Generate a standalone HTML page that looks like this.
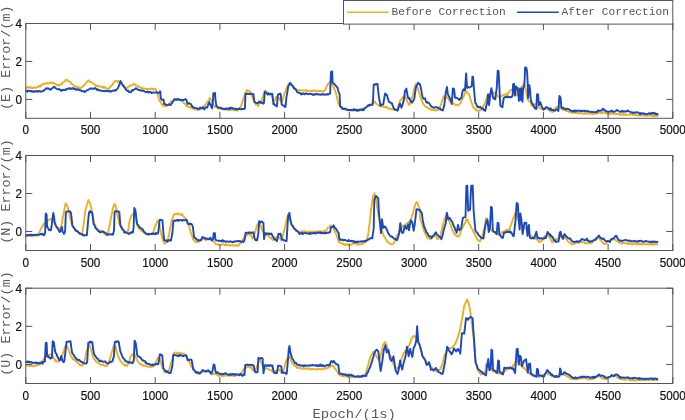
<!DOCTYPE html>
<html><head><meta charset="utf-8"><style>
html,body{margin:0;padding:0;background:#fff;}
svg{display:block;will-change:transform;}
.tk{font-family:"Liberation Sans",sans-serif;font-size:11.7px;fill:#111111;stroke:#111111;stroke-width:0.2px;}
.lb{font-family:"Liberation Mono",monospace;font-size:13.4px;fill:#5a5a5a;}
.lg{font-family:"Liberation Mono",monospace;font-size:11.2px;fill:#555555;}
</style></head><body>
<svg width="685" height="420" viewBox="0 0 685 420">
<polyline points="26.1,87.8 26.7,87.8 27.3,87.6 28.0,87.0 28.6,87.5 29.2,87.1 29.8,87.7 30.4,87.1 31.1,87.9 31.7,87.7 32.3,88.3 32.9,87.8 33.5,87.8 34.1,87.4 34.8,87.3 35.4,88.1 36.0,87.4 36.7,87.4 37.3,87.2 37.9,87.2 38.5,86.1 39.2,85.9 39.9,86.4 40.5,86.6 41.2,84.6 41.9,84.7 42.6,84.6 43.2,83.9 43.9,83.6 44.5,83.5 45.1,83.9 45.7,83.5 46.3,83.4 46.9,82.8 47.6,83.4 48.2,83.7 48.8,83.3 49.4,82.8 50.0,82.4 50.6,82.9 51.2,83.1 51.8,83.0 52.5,82.4 53.1,83.1 53.7,83.1 54.4,83.4 55.0,84.1 55.7,83.9 56.4,84.4 57.1,85.3 57.8,84.8 58.4,85.3 59.1,85.8 59.8,84.9 60.5,84.1 61.2,84.3 62.0,84.0 62.7,82.4 63.3,82.3 64.0,81.6 64.7,81.6 65.4,79.9 66.1,79.8 66.8,79.7 67.5,80.3 68.2,81.0 68.9,81.3 69.5,81.7 70.2,82.0 70.8,82.3 71.4,83.7 72.1,84.4 72.7,84.4 73.3,84.8 74.0,86.0 74.6,86.2 75.2,86.6 75.9,87.0 76.5,86.5 77.1,86.7 77.8,87.2 78.4,87.0 79.0,87.6 79.7,87.8 80.3,88.1 80.9,88.2 81.6,87.0 82.2,86.9 82.8,86.5 83.5,86.1 84.1,85.6 84.7,84.5 85.4,83.9 86.0,82.8 86.6,82.4 87.3,81.6 87.9,80.7 88.5,80.3 89.2,81.2 89.8,81.8 90.4,81.7 91.1,81.9 91.7,82.5 92.3,83.0 93.0,83.4 93.6,83.8 94.2,84.1 94.9,84.5 95.5,85.9 96.1,86.0 96.7,85.4 97.4,86.2 98.0,85.8 98.6,86.3 99.3,86.2 99.9,86.6 100.5,86.5 101.2,86.8 101.8,87.2 102.4,87.4 103.1,86.7 103.7,87.9 104.4,86.9 105.1,87.3 105.7,87.9 106.4,88.4 107.1,88.4 107.8,88.4 108.5,89.2 109.2,88.0 109.9,87.2 110.6,86.7 111.3,85.3 111.9,85.6 112.6,84.5 113.2,83.2 113.8,82.5 114.5,81.7 115.1,81.1 115.7,81.2 116.4,80.9 117.0,81.0 117.6,81.9 118.3,81.1 118.9,81.5 119.5,82.7 120.2,82.2 120.8,83.4 121.4,84.1 122.1,85.1 122.7,85.2 123.3,85.3 124.0,85.4 124.6,86.9 125.2,87.4 125.8,88.1 126.5,88.7 127.1,87.7 127.7,87.1 128.4,86.5 129.0,86.6 129.6,86.3 130.3,85.4 130.9,85.4 131.5,85.5 132.2,85.4 132.8,84.3 133.4,84.3 134.1,83.8 134.7,84.1 135.3,85.1 136.0,85.5 136.6,85.3 137.2,85.8 137.9,86.0 138.5,87.2 139.1,86.7 139.8,87.2 140.4,87.4 141.0,88.3 141.7,88.3 142.3,87.8 142.9,88.6 143.6,88.6 144.2,88.5 144.8,88.7 145.5,88.8 146.1,88.8 146.7,89.1 147.4,89.0 148.0,89.2 148.6,89.1 149.3,89.0 150.0,88.9 150.7,88.9 151.4,88.4 152.1,89.2 152.9,89.5 153.6,88.8 154.3,88.5 155.0,89.1 155.7,89.2 156.8,92.5 157.9,95.1 158.6,98.4 159.3,100.5 160.0,101.6 160.7,102.1 161.6,103.8 162.5,105.6 163.4,105.6 164.3,105.8 165.2,106.2 166.1,106.3 167.0,105.2 167.9,105.0 168.6,104.3 169.3,103.2 170.0,102.7 170.7,101.9 171.4,101.2 172.1,101.1 172.9,101.3 173.6,100.2 174.3,99.9 175.0,98.9 175.7,99.8 176.4,99.5 177.1,100.1 177.9,99.4 178.6,99.6 179.3,99.7 180.0,99.8 180.7,100.1 181.4,100.4 182.1,100.9 182.9,101.6 183.6,102.9 184.3,103.1 185.0,104.0 185.7,104.4 186.4,106.2 187.1,106.2 187.9,105.9 188.6,107.1 189.3,107.2 190.0,106.8 190.6,107.9 191.2,107.1 191.8,107.5 192.4,108.3 193.0,108.5 193.6,108.9 194.3,109.2 194.9,109.0 195.5,109.6 196.2,108.6 196.8,109.4 197.4,110.0 198.1,109.3 198.7,109.6 199.3,109.8 200.0,109.1 200.6,108.6 201.2,107.5 201.9,107.8 202.5,108.2 203.1,107.5 203.8,106.3 204.4,106.0 205.0,105.1 205.7,104.5 206.3,103.5 206.9,102.9 207.6,101.3 208.4,101.1 209.1,99.4 209.8,97.9 210.4,99.2 211.0,99.9 211.7,100.9 212.3,102.1 212.9,103.6 213.6,105.0 214.2,105.7 214.8,106.6 215.5,106.8 216.2,107.1 216.8,107.7 217.5,107.5 218.2,108.1 218.9,108.5 219.5,108.7 220.2,108.9 220.9,108.0 221.5,109.1 222.1,109.3 222.7,109.0 223.4,109.6 224.0,109.4 224.6,109.2 225.3,109.4 225.9,109.7 226.5,109.4 227.2,109.5 227.8,109.9 228.4,110.2 229.1,109.4 229.7,109.4 230.3,110.2 231.0,109.5 231.6,109.5 232.2,109.6 232.9,109.9 233.5,109.9 234.1,110.1 234.8,110.5 235.4,110.3 236.0,110.5 236.7,109.6 237.3,110.5 237.9,110.5 238.6,108.8 239.2,108.9 239.8,107.4 240.5,106.9 241.1,106.2 241.8,103.4 242.5,101.6 243.2,99.0 243.9,97.4 244.7,94.8 245.4,92.8 246.1,92.4 246.8,89.9 247.5,90.4 248.2,91.5 248.9,90.8 249.6,90.7 250.3,92.8 251.1,94.6 251.8,96.1 252.5,98.1 253.2,98.9 253.9,101.2 254.6,102.1 255.3,103.5 256.0,104.7 256.8,103.9 257.5,104.8 258.2,106.1 258.8,104.7 259.4,103.8 260.1,102.6 260.7,102.1 261.3,101.0 262.0,99.6 262.7,97.3 263.4,95.3 264.1,93.4 264.8,91.1 265.5,90.5 266.2,91.4 267.0,92.0 267.7,92.5 268.3,92.9 268.9,92.9 269.6,93.9 270.2,94.9 270.8,94.9 271.5,95.9 272.2,97.1 272.9,98.9 273.6,100.3 274.3,101.4 275.2,99.6 276.0,96.9 276.7,97.0 277.4,97.6 278.1,98.1 278.8,97.7 279.6,98.8 280.3,100.6 281.0,101.2 281.7,102.8 282.4,100.8 283.1,97.9 283.8,95.6 284.5,93.1 285.3,91.6 286.0,89.4 286.7,87.6 287.4,86.5 288.1,84.7 288.9,85.1 289.7,84.2 290.3,84.5 291.0,85.0 291.7,85.8 292.4,86.8 293.1,87.4 293.7,88.3 294.3,88.1 295.0,89.0 295.6,89.0 296.2,89.1 296.9,90.3 297.5,90.4 298.1,90.1 298.8,90.1 299.4,90.2 300.0,90.2 300.7,90.1 301.3,90.6 301.9,90.6 302.6,90.6 303.2,90.5 303.8,90.4 304.5,90.5 305.1,90.7 305.7,90.2 306.4,90.2 307.0,90.8 307.6,90.5 308.3,91.1 308.9,90.7 309.5,90.8 310.2,91.2 310.8,91.2 311.4,90.9 312.1,90.8 312.7,91.3 313.3,90.5 314.0,90.5 314.6,90.8 315.2,90.5 315.8,90.7 316.4,91.2 317.0,91.5 317.6,91.0 318.3,91.1 318.9,90.8 319.5,91.5 320.1,91.2 320.7,90.8 321.3,91.2 321.9,91.3 322.6,91.4 323.2,91.8 323.8,91.5 324.4,90.7 325.1,89.8 325.8,88.8 326.5,86.6 327.2,85.8 328.0,83.8 328.7,84.0 329.4,82.0 330.1,81.5 330.8,82.1 331.5,84.2 332.2,84.5 332.9,85.9 333.6,86.9 334.4,89.4 335.1,90.9 335.8,92.4 336.5,95.7 337.2,98.3 337.9,101.5 338.6,103.9 339.3,104.7 340.1,106.2 340.8,107.5 341.5,108.0 342.2,108.7 342.8,108.8 343.5,109.2 344.2,109.4 344.9,109.7 345.5,109.7 346.2,110.0 346.9,110.0 347.5,110.3 348.1,109.7 348.7,109.8 349.4,110.3 350.0,110.1 350.6,110.4 351.3,110.1 351.9,109.9 352.5,110.2 353.2,110.1 353.8,110.3 354.4,110.7 355.1,110.1 355.7,110.3 356.3,110.6 357.0,110.7 357.6,111.2 358.2,110.6 358.9,109.9 359.5,110.8 360.1,110.0 360.8,110.1 361.4,109.6 362.0,109.2 362.7,110.4 363.3,108.6 363.9,108.8 364.6,108.3 365.2,107.7 365.8,107.7 366.5,107.3 367.1,106.7 367.7,106.4 368.4,105.8 369.0,105.1 369.6,104.6 370.3,104.7 370.9,104.0 371.5,104.0 372.2,102.9 372.8,103.1 373.4,101.9 374.1,102.2 374.7,101.3 375.3,102.2 376.0,103.6 376.6,103.8 377.2,104.4 377.8,104.8 378.5,105.5 379.1,105.3 379.7,105.9 380.4,106.0 381.0,106.6 381.6,106.4 382.3,106.3 382.9,106.6 383.5,106.8 384.2,106.8 384.8,107.6 385.4,106.8 386.1,107.3 386.7,106.8 387.3,107.6 388.0,108.3 388.6,108.7 389.2,108.5 389.9,108.7 390.5,109.0 391.1,109.2 391.8,109.3 392.4,109.2 393.0,109.3 393.7,109.9 394.3,110.1 394.9,110.1 395.6,109.4 396.2,109.8 396.8,109.8 397.5,110.3 398.1,107.4 398.7,104.7 399.4,103.0 400.0,100.7 400.7,100.0 401.4,99.2 402.1,97.9 402.9,97.2 403.6,96.7 404.3,96.4 405.0,96.0 405.7,98.0 406.4,99.0 407.1,101.1 407.9,102.8 408.6,103.3 409.3,104.9 410.0,103.8 410.7,101.9 411.4,100.3 412.1,97.3 412.9,94.9 413.6,91.4 414.3,89.0 415.0,86.4 415.7,84.1 416.4,85.5 417.1,87.4 417.9,88.5 418.6,91.7 419.3,92.7 420.0,95.4 420.7,97.5 421.4,99.8 422.1,101.5 422.9,103.4 423.6,104.4 424.3,105.2 424.9,105.8 425.5,106.7 426.1,106.7 426.7,107.3 427.3,107.2 428.0,108.0 428.6,108.5 429.2,109.1 429.8,108.7 430.4,108.6 431.0,109.7 431.6,109.9 432.2,110.1 432.9,110.0 433.5,109.9 434.1,110.0 434.7,110.4 435.3,110.6 435.9,109.9 436.5,110.3 437.1,110.3 437.9,110.0 438.6,109.8 439.3,109.3 440.0,107.0 440.7,105.2 441.4,103.3 442.1,100.2 442.9,99.1 443.6,96.3 444.3,96.6 445.0,96.2 445.7,96.3 446.4,96.3 447.1,98.0 447.9,98.5 448.6,98.9 449.3,100.7 450.0,101.3 450.7,102.1 451.4,102.1 452.1,102.6 452.9,103.2 453.6,103.2 454.3,104.4 455.0,104.6 455.7,104.9 456.4,105.2 457.1,105.3 457.9,104.8 458.6,104.7 459.3,104.5 460.0,103.5 460.7,102.5 461.4,100.9 462.1,99.4 462.9,97.9 463.6,96.4 464.3,94.9 465.0,92.3 465.7,90.7 466.4,91.3 467.1,92.3 467.9,93.1 468.9,94.2 469.6,96.0 470.3,99.2 471.0,100.8 471.7,102.9 472.4,104.8 473.1,106.8 473.9,108.2 474.6,108.3 475.3,109.2 476.0,110.5 476.7,109.7 477.4,110.5 478.1,110.6 478.9,110.8 479.6,110.9 480.3,109.6 481.0,109.7 481.7,109.4 482.4,108.4 483.1,106.4 483.9,105.1 484.6,104.0 485.3,102.2 486.0,99.4 486.7,98.4 487.4,95.4 488.1,95.7 488.9,94.8 489.6,94.9 490.3,94.2 491.0,93.4 491.7,92.3 492.4,91.7 493.1,92.7 493.9,92.7 494.6,93.7 495.3,93.7 496.0,94.3 496.7,94.5 497.4,96.1 498.1,96.6 498.9,96.7 499.6,96.6 500.3,96.0 501.0,96.4 501.7,96.2 502.4,95.1 503.1,95.1 503.9,94.5 505.0,94.9 505.6,94.3 506.2,95.0 506.8,93.5 507.4,93.7 508.0,93.5 508.7,92.3 509.3,91.6 510.0,90.7 510.9,90.1 511.7,89.6 512.5,89.0 513.4,89.2 514.2,89.3 515.1,89.1 516.3,91.7 517.1,95.6 518.0,92.0 519.1,89.3 520.3,88.3 521.4,86.9 522.3,86.6 523.1,85.7 523.7,83.5 524.3,84.7 525.1,86.9 526.0,91.2 526.9,94.7 527.7,99.6 528.9,100.9 530.0,101.8 530.9,103.4 531.7,105.6 532.0,105.9 532.7,105.1 533.4,104.9 534.1,104.9 534.9,103.9 535.6,104.9 536.3,105.1 537.0,106.1 537.7,106.5 538.4,107.1 539.1,107.9 539.9,107.5 540.6,108.6 541.3,108.3 542.0,109.1 542.7,109.1 543.4,110.0 544.1,109.4 544.9,108.5 545.6,108.6 546.3,108.0 547.0,109.0 547.7,109.3 548.4,109.7 549.1,110.1 549.9,110.9 550.6,110.9 551.3,111.0 552.0,111.9 552.7,112.0 553.4,110.5 554.1,109.9 554.9,108.5 555.6,107.8 556.3,107.1 557.0,106.9 557.7,106.9 558.4,107.2 559.1,107.0 559.9,107.3 560.6,107.5 561.3,108.3 562.0,109.7 562.6,109.5 563.2,109.7 563.8,110.1 564.4,109.9 565.1,110.2 565.7,110.8 566.3,111.0 566.9,111.0 567.6,110.9 568.2,111.3 568.8,111.7 569.5,112.4 570.1,111.8 570.7,112.0 571.4,112.3 572.0,113.0 572.6,112.5 573.3,112.6 573.9,112.3 574.5,112.5 575.2,112.8 575.8,113.0 576.4,112.9 577.1,113.0 577.7,113.6 578.3,112.8 579.0,113.3 579.6,113.1 580.3,113.3 580.9,113.4 581.5,113.5 582.2,113.2 582.8,113.1 583.4,113.8 584.1,113.6 584.7,113.3 585.3,114.1 586.0,113.6 586.6,113.3 587.2,113.1 587.9,113.7 588.5,113.6 589.1,113.4 589.8,113.7 590.4,114.1 591.0,113.5 591.7,113.3 592.3,113.6 593.0,114.0 593.6,114.0 594.2,113.7 594.9,113.6 595.5,113.2 596.1,113.8 596.7,112.7 597.4,113.6 598.0,113.1 598.6,112.9 599.3,112.3 599.9,112.8 600.5,113.1 601.2,113.2 601.8,112.5 602.4,113.3 603.1,112.4 603.7,112.0 604.3,112.4 604.9,112.8 605.6,113.2 606.2,113.2 606.8,113.5 607.4,113.7 608.0,114.1 608.6,113.3 609.2,113.8 609.8,114.4 610.4,113.8 611.1,113.6 611.7,113.1 612.3,113.6 612.9,114.1 613.6,114.1 614.2,113.4 614.8,113.3 615.5,114.2 616.1,114.1 616.7,113.7 617.4,114.0 618.0,114.3 618.6,114.0 619.3,113.9 619.9,114.4 620.5,115.1 621.2,114.5 621.8,114.4 622.4,114.6 623.1,114.0 623.7,115.2 624.3,114.0 625.0,114.7 625.6,115.0 626.3,114.4 626.9,114.9 627.5,114.9 628.2,114.5 628.8,114.5 629.4,114.8 630.1,113.9 630.7,114.6 631.3,114.5 632.0,114.6 632.6,114.6 633.2,115.0 633.9,114.9 634.5,114.9 635.1,115.0 635.8,114.9 636.4,114.8 637.0,115.6 637.7,115.1 638.3,115.2 639.0,115.2 639.6,115.6 640.2,115.1 640.9,115.1 641.5,115.4 642.1,115.4 642.8,115.1 643.4,115.6 644.0,115.7 644.7,115.8 645.3,115.6 645.9,115.7 646.6,115.7 647.2,115.7 647.8,115.9 648.5,115.8 649.1,114.9 649.7,115.1 650.4,115.6 651.0,115.8 651.7,115.2 652.3,116.0 652.9,115.8 653.5,116.6 654.1,115.8 654.7,116.3 655.3,116.2 655.9,116.2 656.5,116.0 657.1,115.6 657.7,116.0" fill="none" stroke="#EDB120" stroke-width="1.9" stroke-linejoin="round" stroke-linecap="round"/>
<polyline points="26.1,90.7 26.7,90.8 27.3,91.7 27.9,90.8 28.6,90.5 29.2,91.1 29.8,91.1 30.4,91.3 31.0,90.9 31.6,91.6 32.3,91.3 32.9,92.0 33.5,91.3 34.1,91.2 34.8,91.7 35.4,91.5 36.0,90.9 36.7,91.5 37.3,91.0 37.9,91.7 38.5,91.0 39.2,91.4 39.8,91.0 40.4,91.4 41.1,91.8 41.7,91.7 42.3,91.1 43.0,90.8 43.6,91.0 44.2,90.0 44.9,89.4 45.5,89.4 46.1,88.2 46.8,88.4 47.4,88.7 48.0,88.5 48.7,88.4 49.3,88.9 49.9,89.7 50.6,89.5 51.2,89.4 51.8,88.5 52.5,88.0 53.1,87.6 53.7,87.1 54.4,86.7 55.1,87.6 55.8,88.4 56.5,88.7 57.2,89.1 57.9,89.3 58.6,89.4 59.2,89.1 59.9,90.0 60.6,89.8 61.3,90.9 62.0,90.2 62.6,89.7 63.2,90.2 63.9,89.9 64.5,90.0 65.1,89.6 65.8,90.0 66.4,88.9 67.0,89.1 67.6,88.7 68.3,88.6 68.9,88.2 69.5,88.9 70.2,88.1 70.8,88.8 71.4,88.8 72.1,88.7 72.7,88.0 73.3,88.8 74.0,88.4 74.6,89.0 75.2,88.9 75.9,89.8 76.5,89.1 77.1,89.4 77.8,89.8 78.4,89.3 79.0,89.8 79.7,90.1 80.3,90.4 80.9,90.3 81.6,91.2 82.2,91.4 82.8,91.3 83.5,91.0 84.1,91.4 84.7,92.1 85.4,91.6 86.1,90.9 86.8,90.2 87.4,90.4 88.1,90.0 88.8,89.4 89.5,89.0 90.1,88.5 90.7,88.4 91.4,88.4 92.0,88.9 92.6,88.8 93.3,88.4 93.9,88.5 94.5,89.0 95.2,88.1 95.8,88.6 96.5,88.6 97.2,90.0 97.9,89.4 98.6,90.3 99.2,90.4 99.9,90.1 100.5,90.7 101.2,90.6 101.8,90.8 102.4,90.8 103.1,91.0 103.7,91.1 104.3,90.7 105.0,91.3 105.6,90.8 106.2,90.7 106.9,91.1 107.5,91.0 108.1,91.0 108.8,90.9 109.4,91.5 110.0,91.5 110.7,90.9 111.3,91.5 111.9,91.0 112.6,90.7 113.2,90.6 113.9,90.7 114.6,90.2 115.2,90.0 115.9,90.6 116.6,89.5 117.3,88.8 117.9,88.1 118.6,86.7 119.2,84.9 119.8,83.3 120.4,81.0 121.2,82.8 121.9,83.3 122.7,85.5 123.3,85.5 124.0,86.9 124.6,87.6 125.2,88.2 125.8,89.5 126.5,90.2 127.1,90.6 127.7,91.0 128.4,90.6 129.0,92.1 129.6,92.1 130.3,92.2 130.9,92.3 131.5,91.1 132.2,90.1 132.8,90.7 133.4,89.9 134.1,89.7 134.7,89.1 135.3,88.8 136.0,88.1 136.6,88.7 137.2,89.2 137.9,89.4 138.5,90.1 139.1,89.9 139.8,90.1 140.4,90.3 141.0,90.7 141.7,90.7 142.3,90.4 142.9,90.7 143.6,90.6 144.2,91.3 144.8,91.6 145.5,91.9 146.1,92.2 146.7,91.8 147.4,91.4 148.0,92.1 148.6,92.5 149.3,92.0 150.0,91.8 150.7,92.0 151.4,93.2 152.1,93.0 152.9,92.5 153.6,92.5 154.3,92.6 155.0,92.6 155.7,92.6 156.4,92.1 157.1,92.3 157.9,93.1 158.6,92.7 159.6,92.5 160.0,91.1 160.4,91.9 160.6,96.5 161.1,99.2 161.7,99.8 162.3,99.8 162.9,99.5 163.6,99.7 164.1,104.1 165.0,103.9 165.7,104.7 166.4,104.9 167.1,105.1 167.9,105.2 168.6,104.4 169.3,104.9 170.0,104.5 170.7,104.9 171.4,103.8 172.1,103.2 172.9,101.5 173.6,100.8 174.3,99.1 175.0,99.2 175.7,99.5 176.4,100.0 177.1,99.1 177.9,99.5 178.6,98.9 179.3,99.8 180.0,100.2 180.7,99.7 181.4,100.1 182.1,100.4 182.9,99.8 183.6,100.0 184.2,99.9 184.8,99.3 185.4,99.1 186.1,99.3 186.8,101.1 187.5,104.1 188.1,103.1 188.8,103.2 189.4,103.3 190.0,104.0 190.8,103.9 191.4,105.1 192.1,106.2 192.7,107.3 193.4,107.3 194.1,107.8 194.7,107.8 195.4,108.1 196.1,108.1 196.8,108.3 197.4,108.4 198.1,109.1 198.7,109.0 199.3,108.6 200.0,107.5 200.6,108.3 201.2,108.5 201.9,108.1 202.5,107.3 203.1,107.7 204.3,109.5 205.0,108.1 205.7,107.3 206.4,107.4 207.1,107.5 207.9,105.7 208.6,103.9 209.3,102.1 210.0,104.2 210.7,104.8 211.4,107.0 212.1,108.3 213.0,100.1 213.4,93.1 214.2,93.1 215.0,93.0 215.6,101.2 216.4,106.1 217.1,106.3 217.9,107.5 218.6,107.8 219.4,107.5 220.2,108.0 220.9,107.8 221.5,108.1 222.1,108.7 222.7,108.7 223.4,108.8 224.0,108.8 224.6,109.0 225.3,108.6 225.9,109.2 226.5,108.3 227.2,108.9 227.8,108.9 228.4,108.9 229.1,108.0 229.7,108.9 230.3,108.1 231.0,107.6 231.6,108.3 232.2,108.5 232.9,108.0 233.5,108.8 234.1,108.8 234.8,108.9 235.4,108.6 236.0,109.4 236.7,109.3 237.3,109.3 237.9,108.9 238.6,109.0 239.2,109.1 239.8,108.5 240.5,108.8 241.1,109.5 241.7,109.0 242.4,109.0 243.0,108.8 243.6,109.1 244.3,108.9 244.9,108.5 245.5,93.6 246.1,94.0 246.7,94.1 247.3,93.7 247.9,94.0 248.5,94.0 249.1,94.1 249.8,93.8 250.4,93.6 251.0,93.8 251.6,93.7 252.2,93.8 252.8,94.3 253.4,94.1 254.4,101.8 255.0,102.2 255.6,102.6 256.3,102.9 256.9,102.9 257.5,103.2 258.2,102.9 259.1,101.4 259.8,102.4 260.5,101.8 261.3,102.9 262.0,102.4 262.6,102.9 263.2,103.7 263.9,103.3 264.8,91.7 265.5,92.8 266.2,92.8 267.0,93.6 267.7,94.7 268.3,93.4 269.0,94.2 269.7,94.4 270.4,93.8 271.1,93.7 271.7,94.1 272.4,94.0 273.4,104.2 274.0,103.7 274.7,104.6 275.3,105.5 276.0,105.8 276.9,106.4 277.9,94.4 278.6,94.4 279.3,93.9 280.0,93.5 280.7,94.2 281.7,104.6 282.3,105.1 283.0,105.6 283.6,105.5 284.2,106.0 284.9,107.1 285.5,106.8 286.4,97.6 287.1,93.5 287.7,89.9 288.3,86.3 289.0,85.1 289.6,83.2 290.2,82.8 290.9,83.5 291.7,85.0 292.4,85.7 293.1,86.5 293.7,87.1 294.3,88.6 295.0,88.4 295.6,89.6 296.2,90.1 296.9,91.7 297.5,92.2 298.1,92.3 298.8,92.9 299.4,93.0 300.0,92.9 300.7,93.8 301.3,94.5 301.9,93.6 302.6,94.1 303.2,93.3 303.8,94.0 304.5,94.3 305.1,93.9 305.7,93.2 306.4,93.8 307.0,93.5 307.6,94.2 308.3,94.0 308.9,93.9 309.5,94.0 310.2,93.6 310.8,93.9 311.4,94.3 312.1,94.2 312.7,94.8 313.3,94.4 314.0,95.0 314.6,93.9 315.2,94.2 315.9,94.4 316.5,93.8 317.1,94.5 317.8,94.2 318.4,94.4 319.0,94.3 319.6,94.6 320.3,94.8 320.9,94.4 321.5,94.8 322.2,94.0 322.8,94.3 323.4,94.2 324.1,94.8 324.7,94.6 325.3,94.3 326.0,94.6 326.6,94.5 327.2,94.1 328.0,94.7 328.7,93.9 329.4,93.9 330.1,93.7 331.0,71.8 332.2,71.5 332.6,82.7 333.3,83.1 334.1,83.7 334.8,84.5 335.5,85.4 336.3,86.3 337.0,87.0 337.7,88.4 338.3,90.8 338.9,92.5 339.6,94.3 340.1,106.1 340.9,106.9 341.7,107.0 342.4,108.8 343.1,108.4 343.7,109.0 344.3,108.6 345.0,108.9 345.6,108.6 346.2,109.1 346.9,109.6 347.5,109.7 348.1,110.1 348.7,109.8 349.4,110.1 350.0,110.0 350.6,110.0 351.3,110.2 351.9,109.7 352.5,110.4 353.2,110.2 353.8,109.1 354.4,109.2 355.1,110.1 355.7,110.1 356.3,109.7 357.0,110.8 357.6,109.8 358.2,110.2 358.9,110.3 359.5,109.6 360.1,109.4 360.8,109.7 361.4,109.5 362.0,110.0 362.7,109.3 363.3,110.1 364.0,109.9 364.7,108.4 365.4,107.6 366.1,107.3 366.9,106.6 367.6,105.8 368.3,105.2 369.0,105.8 369.6,104.8 370.3,105.0 370.9,105.1 371.5,105.1 372.2,104.9 372.8,104.3 373.7,84.8 374.4,84.8 375.0,84.1 375.6,84.7 376.3,83.8 376.9,84.4 377.5,83.9 378.5,93.8 379.1,98.2 379.7,101.2 380.4,105.7 381.1,105.5 381.8,104.4 382.5,104.4 383.2,104.5 383.9,100.3 384.5,96.9 385.1,93.5 385.8,94.1 386.4,95.0 387.0,94.9 387.7,98.1 388.3,99.8 388.9,101.7 389.6,101.7 390.3,102.8 391.1,102.9 391.8,103.1 392.5,105.2 393.2,106.9 393.9,108.5 394.6,109.3 395.3,109.5 396.0,109.6 396.7,110.2 397.5,110.8 398.1,109.0 398.7,107.4 399.4,104.7 400.0,103.6 400.7,105.5 401.4,107.8 402.1,105.8 402.9,103.7 403.6,100.8 404.3,96.5 405.0,90.5 405.7,90.2 406.4,88.6 407.1,93.3 407.9,97.2 408.6,98.5 409.3,97.9 410.0,99.9 410.7,101.0 411.4,102.3 412.1,102.6 412.9,101.4 413.6,100.1 414.3,98.6 415.0,93.5 415.7,88.5 416.4,86.1 417.1,84.9 417.9,82.8 418.6,83.1 419.3,84.3 420.0,84.3 420.7,87.2 421.4,90.9 422.1,94.9 422.9,98.1 423.6,98.7 424.3,98.7 425.0,98.2 425.7,100.5 426.4,102.5 427.1,101.9 427.9,102.9 428.6,102.6 429.3,103.4 430.0,104.9 430.7,105.5 431.4,106.5 432.1,106.9 432.9,107.4 433.5,107.8 434.1,107.5 434.7,107.5 435.3,107.2 435.9,107.4 436.5,107.2 437.1,107.5 437.9,107.5 438.6,108.3 439.3,108.4 440.0,108.5 440.7,109.7 441.4,109.6 442.1,109.9 442.9,110.4 443.6,107.4 444.3,105.4 445.0,98.9 445.7,92.6 446.9,86.9 447.9,94.3 448.6,95.8 449.3,96.9 450.0,98.6 450.9,101.0 451.7,104.1 452.9,88.4 454.0,88.9 455.0,97.7 455.7,97.8 456.4,97.6 457.1,98.1 457.9,98.5 458.6,99.6 459.3,100.0 460.0,99.1 460.7,98.2 461.4,98.0 462.1,93.4 462.9,90.2 463.6,89.2 464.3,90.2 465.0,90.1 466.1,73.5 467.1,88.0 467.7,86.6 468.3,87.0 469.0,87.3 469.6,87.5 470.3,86.9 471.0,86.7 471.7,86.4 472.4,76.7 473.1,76.8 473.9,87.7 474.6,96.1 475.3,103.0 476.0,103.6 476.7,105.3 477.4,107.0 478.1,107.3 478.9,106.7 479.6,107.4 480.3,106.8 481.0,107.9 481.7,108.6 482.4,108.4 483.1,108.8 483.9,110.3 484.6,110.2 485.3,110.8 485.9,107.5 486.5,105.0 487.1,103.6 488.1,94.2 489.1,105.1 490.3,94.3 491.4,88.1 492.3,93.4 493.1,97.7 493.9,98.7 494.6,97.8 495.3,99.4 496.0,93.1 496.7,88.3 497.7,70.8 498.6,71.2 499.6,91.8 500.3,105.5 501.0,106.3 501.7,106.8 502.4,107.3 503.1,101.7 503.9,97.8 505.0,97.1 505.6,97.0 506.2,97.2 506.9,97.3 507.5,96.2 508.1,96.9 508.8,97.4 509.4,97.0 510.0,97.0 510.9,97.2 511.7,97.0 512.6,95.2 513.1,84.4 513.9,83.7 514.3,86.2 514.9,95.7 515.4,90.1 516.0,86.5 516.6,87.4 517.1,89.5 517.7,88.0 518.3,92.8 518.9,100.9 519.4,93.7 520.0,88.6 520.6,97.9 521.0,100.1 521.4,92.3 522.0,88.5 522.5,101.7 523.0,89.4 523.7,86.9 524.3,85.3 524.7,78.0 525.1,67.5 526.3,67.7 527.1,71.6 527.4,78.2 527.7,83.6 528.0,98.1 528.3,95.2 528.9,85.1 529.4,85.4 530.0,89.4 530.5,97.0 531.0,100.0 532.0,103.5 532.7,104.1 533.4,105.3 534.1,107.1 534.9,108.3 535.6,108.9 536.3,109.0 537.0,94.4 538.0,94.2 538.9,105.2 539.6,104.0 540.3,102.2 541.0,104.3 541.7,106.4 542.6,107.8 543.4,109.5 544.1,109.3 544.9,108.8 545.6,107.3 546.3,107.1 547.0,107.4 547.7,107.6 548.4,108.0 549.1,109.1 549.9,109.7 550.6,108.2 551.3,109.6 552.0,110.3 552.7,109.7 553.4,110.1 554.1,110.7 554.9,110.9 555.6,110.3 556.3,109.3 557.0,109.3 557.7,110.2 558.4,111.0 559.4,95.9 560.6,97.7 561.3,106.9 562.0,108.3 562.7,107.6 563.4,107.9 564.1,108.7 564.9,109.2 565.6,108.8 566.3,109.3 567.0,108.6 567.7,108.8 568.4,109.1 569.1,109.2 569.9,110.3 570.6,110.5 571.3,110.8 572.0,111.4 572.7,110.8 573.4,111.5 574.1,110.7 574.9,110.5 575.5,111.7 576.1,110.5 576.8,111.0 577.4,110.8 578.0,110.5 578.7,110.5 579.3,110.9 579.9,111.3 580.6,111.0 581.2,110.6 581.8,111.3 582.5,110.9 583.1,110.7 583.7,110.8 584.4,111.4 585.0,110.5 585.7,111.0 586.3,111.4 586.9,111.6 587.6,110.8 588.2,111.4 588.8,111.4 589.5,111.8 590.1,111.9 590.7,112.0 591.4,111.8 592.0,111.6 592.6,111.9 593.2,112.1 593.8,112.3 594.4,112.1 595.1,111.9 595.7,112.0 596.3,111.8 597.1,112.0 598.0,110.3 598.7,110.7 599.4,110.8 600.1,110.9 600.9,110.7 601.5,110.2 602.1,110.3 602.8,108.7 603.4,109.2 604.3,109.7 605.1,110.5 605.9,111.3 606.6,111.1 607.3,111.7 608.0,111.8 608.7,111.9 609.4,111.4 610.1,111.5 610.9,111.5 611.6,110.7 612.3,110.7 613.0,111.8 613.7,111.8 614.4,111.7 615.1,111.4 615.9,111.1 616.6,110.0 617.3,110.4 618.0,110.5 618.7,111.0 619.4,111.3 620.0,112.0 620.7,111.4 621.3,111.5 621.9,110.7 622.5,111.7 623.1,110.9 623.7,111.5 624.3,111.3 625.0,111.7 625.6,111.4 626.2,111.5 626.8,111.4 627.5,110.4 628.1,111.1 628.7,111.1 629.4,111.6 630.1,111.8 630.9,112.0 631.5,112.7 632.1,112.9 632.7,113.1 633.3,112.2 633.9,112.7 634.5,112.8 635.1,112.7 635.8,112.3 636.4,112.4 637.0,112.2 637.7,112.6 638.3,112.5 639.0,113.1 639.6,113.4 640.2,114.4 640.9,113.0 641.5,113.6 642.1,113.7 642.7,113.3 643.3,113.2 643.9,113.5 644.5,114.1 645.1,114.2 645.8,113.8 646.4,114.4 647.0,114.1 647.6,114.1 648.2,113.7 648.8,113.1 649.4,113.4 650.1,113.5 650.7,114.1 651.3,113.2 651.9,113.0 652.6,112.8 653.2,113.7 653.8,112.8 654.4,113.8 655.1,113.2 655.7,114.1 656.4,113.7 657.1,114.4 657.7,114.0" fill="none" stroke="#1a48bd" stroke-width="1.9" stroke-linejoin="round" stroke-linecap="round"/>
<polyline points="26.1,235.8 26.7,235.9 27.4,235.8 28.0,236.0 28.6,235.3 29.3,235.4 29.9,235.3 30.5,235.4 31.1,236.1 31.8,235.8 32.4,235.4 33.1,235.3 33.7,236.0 34.4,235.2 35.0,235.4 35.7,235.7 36.3,235.9 37.0,235.9 37.6,235.3 38.3,235.0 39.0,233.0 39.7,231.6 40.4,229.8 41.1,228.5 41.9,226.7 42.6,226.0 43.3,224.5 44.0,223.6 44.7,223.4 45.4,223.0 46.1,222.0 46.9,222.2 47.6,220.5 48.3,220.5 49.0,219.6 49.7,219.4 50.4,219.2 51.1,218.7 51.9,218.7 52.6,220.2 53.3,220.7 54.0,221.9 54.7,223.5 55.4,225.3 56.1,226.8 56.9,227.2 57.6,228.8 58.3,228.8 59.0,228.2 59.7,229.0 60.4,228.1 61.1,225.9 61.9,223.2 62.6,218.7 63.3,214.8 64.0,211.8 64.9,206.9 65.7,203.1 66.3,204.2 67.0,205.2 67.6,206.9 68.3,209.6 69.0,212.2 69.7,216.2 70.4,218.8 71.1,221.4 71.9,224.9 72.6,226.0 73.3,227.4 74.0,228.3 74.7,229.3 75.4,230.5 76.1,230.9 76.9,231.3 77.6,231.5 78.3,232.7 79.0,233.1 79.7,233.9 80.4,234.1 81.1,234.4 81.9,234.3 82.6,230.9 83.3,227.0 84.0,221.6 84.7,215.9 85.4,210.1 86.1,207.3 86.9,205.3 87.6,202.7 88.3,199.9 89.1,201.6 90.0,203.1 90.7,205.5 91.4,209.1 92.1,212.3 92.9,216.1 93.6,220.2 94.3,223.7 95.0,225.0 95.7,227.1 96.4,228.1 97.1,228.7 97.9,229.6 98.6,230.1 99.3,230.4 100.0,230.4 100.7,231.6 101.4,230.6 102.1,232.3 102.9,232.3 103.6,233.3 104.3,233.6 105.0,234.3 105.7,235.3 106.4,235.2 107.1,234.1 107.9,234.0 108.6,229.9 109.3,226.9 110.0,223.0 110.7,219.7 111.4,215.5 112.1,212.5 112.9,208.5 113.6,205.8 114.3,204.6 115.0,203.9 115.7,206.9 116.4,208.8 117.1,213.2 117.9,216.8 118.6,219.8 119.3,223.5 120.0,225.1 120.7,226.8 121.4,228.3 122.1,229.6 122.9,229.6 123.6,230.4 124.3,231.1 125.0,231.9 125.7,231.8 126.4,232.1 127.1,233.0 128.3,230.4 129.0,224.8 129.7,220.1 130.6,217.8 131.4,215.7 132.1,214.7 132.9,214.8 133.6,214.3 134.3,212.4 135.0,211.4 136.0,218.2 137.1,225.5 137.9,226.5 138.6,228.2 139.3,228.8 140.0,228.9 140.7,230.3 141.4,230.2 142.1,231.4 142.9,231.7 143.6,232.4 144.3,232.9 145.0,232.9 145.7,233.4 146.3,233.7 146.9,233.8 147.6,234.2 148.2,234.7 148.8,234.0 149.4,234.7 150.0,234.2 150.7,234.1 151.4,233.5 152.1,233.7 152.9,233.8 153.6,231.0 154.3,228.3 155.1,226.5 156.0,224.7 156.7,222.8 157.4,220.5 158.1,221.8 158.9,222.1 159.6,225.6 160.3,229.8 161.0,233.0 161.7,235.8 162.4,238.6 163.1,240.3 163.9,242.6 164.6,243.7 165.3,243.1 166.0,242.2 166.7,242.1 167.4,241.8 168.1,238.2 168.9,235.0 169.6,231.1 170.3,227.5 171.0,224.4 171.7,220.2 172.6,218.3 173.4,215.2 174.6,214.0 175.2,213.8 175.8,214.6 176.4,214.1 177.0,213.5 177.6,213.9 178.2,213.5 178.9,214.6 179.5,213.9 180.2,214.4 180.8,214.6 181.5,215.0 182.1,214.0 182.9,215.8 183.6,216.4 184.3,217.5 185.0,217.8 185.6,219.2 186.3,219.8 186.7,220.1 187.4,222.1 188.1,223.5 188.9,225.1 189.6,228.3 190.3,230.0 191.0,233.8 191.7,234.9 192.4,236.4 193.1,239.6 193.9,240.2 194.6,240.9 195.3,242.0 196.0,241.9 196.7,241.4 197.4,242.2 198.1,242.1 198.9,241.2 199.6,240.3 200.3,240.1 201.0,240.0 201.7,239.5 202.4,238.8 203.1,238.7 203.9,238.4 204.6,239.4 205.3,240.0 206.0,240.0 206.7,239.8 207.4,239.3 208.1,238.4 208.9,239.1 209.6,238.8 210.3,237.7 211.0,237.8 211.7,239.3 212.4,240.4 213.1,241.1 213.9,241.7 214.6,242.3 215.3,243.5 216.0,244.3 216.6,244.4 217.2,244.2 217.8,244.5 218.4,244.4 219.1,245.1 219.7,244.9 220.3,244.9 221.1,245.1 222.0,244.3 222.6,244.3 223.3,244.1 223.9,244.5 224.5,245.2 225.2,244.3 225.8,245.2 226.4,244.5 227.1,244.6 227.7,245.4 228.3,244.7 229.0,245.0 229.6,245.0 230.3,245.7 230.9,245.4 231.5,245.1 232.2,245.2 232.8,245.5 233.4,245.2 234.1,245.6 234.7,245.8 235.3,245.6 236.0,244.9 236.6,245.7 237.2,245.2 237.9,245.7 238.5,245.3 239.1,245.0 239.9,243.2 240.6,243.3 241.3,241.2 242.0,240.7 242.7,239.9 243.4,239.1 244.1,237.1 244.9,236.8 245.6,234.8 246.3,234.7 247.0,235.4 247.7,234.4 248.4,234.3 249.1,234.0 249.9,234.8 250.6,234.1 251.3,236.3 252.0,237.6 252.7,238.6 253.4,236.3 254.1,235.4 254.9,232.8 255.6,230.3 256.3,228.1 257.0,225.4 257.6,224.5 258.2,223.3 258.9,222.6 259.7,223.6 260.6,225.8 261.3,227.4 262.0,229.4 262.7,231.5 263.4,232.2 264.1,234.0 264.9,233.8 265.6,234.7 266.3,235.1 267.0,235.0 267.7,235.1 268.4,235.6 269.1,237.1 269.9,237.2 270.6,238.0 271.3,237.9 272.0,239.1 272.7,240.2 273.4,239.4 274.1,238.9 274.9,238.1 275.6,238.2 276.3,237.3 277.0,237.2 277.7,236.6 278.4,236.9 279.1,237.8 279.9,238.6 280.6,239.3 281.3,240.7 282.0,238.7 282.7,236.6 283.4,233.8 284.1,230.6 284.9,227.4 285.6,224.5 286.3,221.1 287.0,218.3 288.0,215.4 288.7,216.2 289.4,217.2 290.1,220.1 290.9,223.3 291.6,225.4 292.3,225.4 293.0,227.6 293.7,228.0 294.4,228.8 295.1,229.2 295.9,230.7 296.6,231.2 297.3,230.8 298.0,231.6 298.7,231.2 299.4,232.0 300.1,232.2 300.7,231.9 301.3,232.2 302.0,231.1 302.6,232.7 303.2,231.7 303.9,231.1 304.5,231.4 305.1,231.1 305.8,231.3 306.4,232.1 307.0,231.7 307.7,232.1 308.3,232.1 309.0,232.4 309.6,231.4 310.2,231.3 310.9,231.8 311.5,232.2 312.1,232.2 312.8,231.7 313.4,231.9 314.0,232.4 314.7,232.2 315.3,231.2 315.9,232.0 316.6,232.1 317.2,231.9 317.8,231.7 318.5,231.1 319.1,231.9 319.7,232.1 320.4,232.0 321.0,231.0 321.7,232.1 322.3,232.0 323.0,231.9 323.7,231.0 324.4,231.2 325.1,230.6 325.9,230.7 326.6,229.8 327.3,228.9 328.0,227.4 328.7,227.4 329.4,227.0 330.1,225.5 330.9,225.6 331.6,225.6 332.3,225.6 333.0,227.0 333.7,228.4 334.4,230.6 335.1,232.0 335.9,233.4 336.6,235.4 337.3,237.5 338.0,239.0 338.7,241.6 339.4,242.5 340.1,242.3 340.9,243.2 341.5,243.4 342.1,243.5 342.7,244.2 343.3,243.4 343.9,244.1 344.5,244.4 345.1,245.0 345.8,244.3 346.4,244.5 347.0,244.8 347.7,243.9 348.3,244.4 349.0,245.0 349.6,244.3 350.2,244.7 350.9,244.9 351.5,244.5 352.1,244.4 352.7,243.8 353.4,243.1 354.0,242.9 354.6,242.9 355.2,243.8 355.9,243.6 356.5,243.6 357.1,243.4 357.8,245.0 358.4,244.2 359.0,243.7 359.6,244.3 360.2,243.9 360.9,244.1 361.5,244.3 362.1,244.1 362.8,243.4 363.4,243.2 364.0,242.9 364.6,242.0 365.2,241.5 365.9,242.1 366.5,240.7 367.3,237.6 368.2,234.8 369.0,227.5 369.8,221.9 370.7,213.9 371.5,206.7 372.3,201.4 373.2,195.8 373.8,195.7 374.5,193.3 375.7,198.0 376.5,203.0 377.3,208.2 378.2,213.2 379.0,217.9 379.6,220.5 380.2,223.4 380.9,226.3 381.5,227.9 382.1,230.4 382.8,232.9 383.4,235.0 384.0,236.3 384.7,237.3 385.3,238.4 386.0,239.8 386.7,241.1 387.3,241.7 388.0,241.8 388.7,242.4 389.3,243.4 390.0,243.5 390.7,244.0 391.3,244.2 391.9,244.1 392.5,244.2 393.2,243.7 394.0,242.5 394.8,241.1 395.5,239.3 396.1,238.1 396.7,236.7 397.3,235.0 398.0,234.2 398.6,232.8 399.2,231.5 399.8,230.0 400.5,229.2 401.1,228.8 401.7,227.3 402.3,227.0 403.0,225.3 403.6,225.7 404.2,225.8 404.8,226.1 405.5,225.1 406.1,224.1 406.7,224.2 407.3,223.1 408.0,222.6 408.7,222.0 409.3,221.5 410.0,221.1 410.7,220.9 411.3,218.9 411.9,215.5 412.5,215.4 413.2,212.1 413.9,209.7 414.6,206.4 415.3,204.4 416.2,202.7 417.0,201.9 417.7,203.4 418.3,205.9 419.0,207.0 419.8,211.7 420.0,218.2 420.9,220.9 421.8,223.3 422.5,225.3 423.1,228.1 423.8,229.5 424.5,232.2 425.1,233.3 425.8,234.6 426.5,235.9 427.1,237.4 427.8,238.1 428.5,238.5 429.2,238.1 429.8,239.5 430.5,238.6 431.2,238.9 431.8,237.6 432.5,237.0 433.2,236.6 433.8,236.6 434.5,236.1 435.2,235.3 435.8,236.3 436.5,237.1 437.2,238.9 437.9,239.3 438.5,238.2 439.2,237.5 439.9,236.6 440.5,235.6 441.4,231.4 442.3,227.1 443.0,224.6 443.7,222.3 444.3,219.9 445.0,218.1 445.9,216.0 446.8,214.4 447.7,216.7 448.6,219.9 449.2,221.1 449.9,223.4 450.6,224.7 451.2,226.6 451.9,229.1 452.6,230.1 453.3,231.5 453.9,233.3 454.6,234.3 455.3,234.8 455.9,235.5 456.6,236.0 457.3,236.0 457.9,236.8 458.6,236.0 459.3,235.8 460.0,234.0 460.6,231.8 461.3,230.4 462.0,228.2 462.6,227.5 463.3,226.4 464.0,224.6 464.6,223.7 465.4,222.4 466.1,220.0 466.8,218.8 467.6,219.9 468.3,221.7 469.1,223.7 469.8,224.8 470.4,225.3 471.1,227.5 471.8,228.6 472.5,229.3 473.1,231.5 473.8,232.5 474.5,233.5 475.1,235.2 475.8,236.4 476.5,237.8 477.1,239.7 477.8,239.6 478.5,240.2 479.2,240.7 479.8,241.6 480.5,240.2 481.2,238.9 481.8,237.5 482.5,235.5 483.2,232.7 483.8,229.4 484.5,227.5 485.2,224.3 486.0,218.2 486.9,219.2 487.8,221.4 488.7,224.8 489.6,229.4 490.2,228.9 490.9,229.8 491.6,230.7 492.2,231.3 493.0,231.3 493.7,232.0 494.4,232.1 495.1,232.2 495.8,233.4 496.5,233.5 497.2,233.6 498.0,234.6 498.7,233.8 499.4,234.5 500.1,234.5 500.7,233.6 501.4,232.8 502.1,231.9 502.8,232.2 503.5,231.5 504.2,231.1 504.9,230.8 505.6,230.7 506.4,229.9 507.1,230.0 507.8,229.7 508.5,230.3 509.2,230.0 509.9,228.4 510.6,225.5 511.2,225.0 511.9,222.1 512.6,220.8 513.2,217.9 513.9,217.4 514.6,215.0 515.3,212.9 516.0,211.9 516.7,214.4 517.4,216.9 518.1,219.5 518.8,221.1 519.5,222.7 520.2,223.9 520.8,225.1 521.5,225.6 522.2,225.5 522.8,226.1 523.5,226.7 524.2,227.2 524.8,228.0 525.5,228.5 526.2,228.7 526.9,230.1 527.6,231.0 528.3,233.6 529.0,234.4 529.8,235.0 530.5,236.1 531.2,236.3 531.9,236.7 532.6,236.6 533.3,237.6 534.0,237.8 534.8,238.3 535.5,238.7 536.2,238.6 536.9,239.4 537.6,239.9 538.2,241.2 538.9,242.1 539.6,241.6 540.2,241.7 540.9,241.2 541.6,240.1 542.2,240.4 542.9,239.1 543.6,237.3 544.3,237.1 544.9,236.0 545.6,236.0 546.3,235.4 546.9,235.2 547.6,234.6 548.3,235.6 548.9,236.7 549.6,237.7 550.3,238.2 551.1,240.0 552.0,242.0 552.8,241.8 553.6,241.8 554.4,240.9 555.2,239.6 556.0,238.7 556.8,238.6 557.7,238.9 558.5,239.2 559.4,237.6 560.3,236.2 561.1,235.4 561.9,235.7 562.7,235.4 563.5,236.3 564.3,237.6 565.1,237.9 565.9,238.3 566.7,239.3 567.5,240.7 568.3,241.8 569.1,242.4 569.9,242.8 570.7,243.7 571.4,243.7 572.2,244.2 573.0,243.8 573.7,243.6 574.4,244.0 575.1,242.2 575.8,242.9 576.5,242.6 577.2,242.7 578.0,242.3 578.7,242.7 579.4,242.4 580.1,241.7 580.8,241.9 581.5,242.4 582.2,242.1 583.0,242.1 583.7,242.1 584.4,242.6 585.1,243.3 585.8,243.0 586.5,243.3 587.3,243.5 588.1,243.0 588.9,243.4 589.7,242.9 590.5,242.5 591.3,243.5 592.1,242.3 592.9,241.6 593.7,240.5 594.5,240.5 595.3,239.7 596.0,239.8 596.8,239.2 597.6,238.5 598.4,238.0 599.2,238.2 600.0,239.9 600.8,240.4 601.6,241.2 602.4,242.2 603.2,243.5 604.0,243.4 604.8,243.9 605.6,244.1 606.2,243.2 606.8,242.6 607.4,242.0 608.0,241.6 608.8,241.5 609.6,240.9 610.4,240.1 611.2,240.1 612.0,240.2 612.8,239.3 613.5,239.4 614.2,239.4 615.0,239.4 615.7,240.4 616.6,240.7 617.5,241.6 618.3,242.1 619.1,242.5 619.9,243.1 620.6,243.3 621.3,243.5 621.9,243.7 622.6,242.4 623.3,243.3 624.0,242.7 624.7,242.6 625.3,243.4 626.0,243.3 626.7,243.5 627.4,243.5 628.1,242.8 628.7,244.1 629.4,243.5 630.1,243.9 630.8,243.7 631.5,244.0 632.1,244.6 632.8,243.7 633.5,244.0 634.2,243.7 634.9,243.6 635.6,244.2 636.2,243.9 636.9,243.9 637.6,244.4 638.3,244.6 639.0,243.2 639.6,244.3 640.3,244.3 641.0,243.5 641.7,244.6 642.4,244.0 643.0,244.0 643.7,244.1 644.4,244.2 645.1,244.5 645.8,244.0 646.4,243.7 647.1,244.0 647.8,244.2 648.5,244.3 649.2,244.3 649.8,244.3 650.5,243.4 651.2,244.7 651.9,244.4 652.6,243.3 653.2,244.6 653.9,244.7 654.6,244.4 655.3,243.9 656.0,244.4 656.7,244.1 657.4,244.3" fill="none" stroke="#EDB120" stroke-width="1.9" stroke-linejoin="round" stroke-linecap="round"/>
<polyline points="26.1,235.8 26.7,235.3 27.4,235.2 28.0,234.7 28.6,235.2 29.3,235.3 29.9,235.0 30.5,234.9 31.1,234.5 31.8,235.5 32.4,235.0 33.1,234.8 33.7,235.1 34.4,234.9 35.0,234.8 35.7,234.7 36.3,234.7 37.0,234.8 37.6,234.9 38.3,234.9 38.9,234.7 39.5,234.8 40.1,234.4 40.7,233.9 41.3,233.8 42.0,234.6 42.6,233.7 43.3,234.6 44.0,235.4 45.1,233.2 45.7,213.5 46.6,214.6 47.1,226.9 47.8,227.7 48.4,228.9 49.0,230.0 49.7,229.8 50.4,230.4 51.1,229.8 52.3,220.2 53.3,213.0 54.0,217.0 54.7,222.0 55.4,224.3 56.1,225.9 56.9,227.2 57.6,228.1 58.3,229.4 59.0,230.9 59.7,232.1 60.9,230.2 61.9,226.9 62.6,231.8 63.3,232.4 64.0,233.9 65.1,231.4 65.9,212.3 66.9,211.5 67.6,211.6 68.3,211.4 69.0,211.3 69.6,211.7 70.2,211.5 70.9,212.5 71.6,218.0 72.3,225.2 73.1,226.6 74.0,227.6 74.7,229.0 75.4,229.8 76.1,231.0 76.9,230.9 77.6,231.3 78.3,232.1 79.0,232.9 79.7,233.7 80.4,233.4 81.1,234.0 81.9,234.2 82.6,235.0 83.3,234.8 84.0,235.6 84.7,235.3 85.4,235.2 86.1,235.3 86.9,235.1 88.0,221.9 89.0,212.6 90.0,211.1 90.7,212.4 91.4,212.0 92.1,212.4 92.9,218.3 93.6,224.2 94.3,224.9 95.0,226.2 95.7,228.4 96.4,228.6 97.1,229.5 97.9,230.8 98.6,231.3 99.3,231.5 100.0,232.5 100.7,232.1 101.4,232.0 102.1,231.8 102.9,231.4 103.6,231.6 104.3,232.3 105.0,232.6 105.7,233.3 106.4,233.4 107.1,234.5 107.9,234.8 108.6,234.2 109.3,234.5 110.0,234.3 110.7,234.3 111.4,234.5 112.1,234.0 112.9,234.7 114.0,230.5 114.6,212.1 115.2,211.3 115.9,210.9 116.6,211.4 117.2,211.6 117.9,211.5 118.6,211.4 119.3,212.1 120.3,224.9 120.9,226.4 121.5,226.9 122.1,228.7 122.9,229.7 123.6,230.3 124.3,232.7 125.0,232.0 125.7,232.5 126.4,232.4 127.1,233.2 127.9,233.4 128.6,234.0 129.3,233.2 130.0,233.5 130.7,232.4 131.4,232.8 132.1,232.0 132.9,232.6 133.6,227.4 134.3,208.0 135.4,210.2 136.4,218.7 137.1,223.7 137.9,224.8 138.6,225.8 139.3,227.0 140.0,227.9 140.7,227.8 141.4,228.2 142.1,229.3 142.9,229.4 143.6,231.4 144.3,232.1 145.0,232.6 145.7,233.7 146.4,233.6 147.1,234.0 147.8,234.6 148.4,234.0 149.0,234.2 149.6,234.0 150.2,234.1 150.8,234.1 151.4,234.1 152.1,233.4 152.9,234.2 153.6,233.4 154.3,233.7 155.0,234.3 155.7,234.1 156.0,233.0 156.7,233.5 157.4,233.7 158.1,233.4 158.9,227.1 159.6,219.9 160.3,219.8 161.0,219.9 161.7,220.3 162.4,220.1 163.4,233.3 164.3,240.3 164.9,240.3 165.5,240.7 166.2,240.8 166.8,240.3 167.4,241.6 168.1,240.2 168.9,240.8 169.6,240.1 170.3,240.6 171.0,240.6 171.7,236.3 172.4,233.0 173.4,220.8 174.1,220.6 174.8,220.2 175.4,221.0 176.1,220.4 176.8,220.6 177.4,219.8 178.1,220.8 178.7,220.1 179.3,220.5 180.0,220.0 180.6,220.1 181.2,220.3 181.9,220.1 182.5,220.8 183.1,219.9 183.9,219.9 184.6,220.4 185.3,220.1 186.0,219.7 186.7,219.9 187.7,223.8 188.4,223.7 189.0,224.2 189.7,223.5 190.4,224.2 191.0,223.9 191.7,224.2 192.9,226.9 193.9,236.1 194.6,238.0 195.3,237.9 196.0,238.9 196.7,239.2 197.4,240.3 198.1,240.0 198.9,240.3 199.6,240.7 200.3,239.9 201.0,240.5 201.7,238.3 202.4,237.1 203.1,237.7 203.9,237.5 204.6,238.1 205.3,238.7 206.0,238.3 206.7,238.9 207.4,238.6 208.1,239.2 208.9,239.4 209.6,238.8 210.3,237.8 211.0,239.2 211.7,240.5 212.4,239.9 213.1,238.8 213.7,233.1 214.9,233.3 215.4,239.6 216.1,240.2 216.8,240.4 217.5,240.5 218.2,240.8 218.9,240.9 219.6,240.8 220.3,241.1 221.0,240.9 221.7,241.4 222.0,241.1 222.6,240.1 223.3,241.5 223.9,241.0 224.5,241.4 225.2,241.3 225.8,241.9 226.4,241.5 227.1,241.7 227.7,241.5 228.3,241.7 229.0,241.9 229.6,241.4 230.3,241.7 230.9,241.5 231.5,241.7 232.2,242.1 232.8,241.8 233.4,242.2 234.1,241.4 234.7,241.5 235.3,241.5 236.0,241.2 236.6,241.5 237.2,241.1 237.9,241.0 238.5,241.3 239.1,240.9 239.8,241.2 240.4,241.3 241.0,241.8 241.6,242.0 242.2,241.7 242.8,241.4 243.4,242.0 244.1,241.0 244.9,238.4 245.6,232.8 246.3,233.3 247.0,232.7 247.7,232.6 248.4,233.0 249.1,232.3 249.8,232.9 250.4,232.4 251.0,232.9 251.6,232.7 252.2,232.5 252.8,233.1 253.4,232.3 254.1,236.3 254.9,239.2 255.6,240.0 256.3,239.5 257.0,240.6 257.7,237.3 258.4,232.6 259.1,221.1 259.9,221.6 260.6,222.6 261.3,221.5 262.0,221.7 262.7,222.5 263.4,222.8 264.1,239.1 264.9,233.1 265.6,234.2 266.3,233.3 267.0,233.9 267.7,233.5 268.4,233.5 269.1,234.3 269.9,233.4 270.6,234.0 271.3,233.6 272.0,234.6 272.7,236.7 273.4,236.9 274.1,238.6 274.9,239.7 275.6,239.3 276.3,240.3 277.0,241.2 277.7,237.6 278.4,233.8 279.1,234.4 279.9,233.8 280.6,233.6 281.7,238.8 282.3,239.7 283.0,239.9 283.6,239.7 284.2,240.6 284.9,240.6 285.7,241.0 286.6,241.0 287.7,222.5 288.4,214.5 288.7,215.4 289.4,212.8 290.1,218.3 290.9,221.8 291.6,224.5 292.3,225.5 293.0,226.2 293.7,227.3 294.4,229.0 295.1,229.2 295.9,229.9 296.6,230.9 297.3,231.0 298.0,231.9 298.7,232.5 299.4,234.0 300.1,233.0 300.8,233.5 301.4,233.2 302.0,232.8 302.6,234.1 303.3,233.8 303.9,233.1 304.5,233.1 305.1,233.0 305.8,233.1 306.4,233.1 307.0,233.4 307.7,233.7 308.3,233.5 309.0,233.7 309.6,233.0 310.2,234.1 310.9,233.3 311.5,233.1 312.1,233.1 312.8,233.5 313.4,233.2 314.0,232.7 314.7,233.0 315.3,233.7 315.9,233.0 316.6,232.7 317.2,232.6 317.8,233.0 318.5,232.5 319.1,232.8 319.7,232.4 320.4,233.1 321.0,232.5 321.7,233.4 322.3,233.2 322.9,232.9 323.6,233.2 324.2,233.3 324.8,232.5 325.5,233.3 326.1,232.9 326.7,233.0 327.4,232.5 328.0,232.6 328.7,232.8 329.4,232.2 330.1,232.1 330.9,227.4 331.6,227.1 332.3,227.3 333.0,226.8 333.7,225.3 334.4,227.1 335.1,228.1 335.9,228.5 336.6,230.1 337.3,231.0 338.0,232.1 338.7,233.1 339.4,239.6 340.1,239.8 340.9,239.4 341.6,240.0 342.3,239.6 342.9,239.9 343.6,240.4 344.2,240.0 344.8,239.8 345.5,240.1 346.1,240.7 346.7,240.9 347.4,240.8 348.0,241.1 348.6,240.0 349.3,240.8 349.9,241.1 350.5,240.8 351.2,241.2 351.8,240.7 352.4,241.0 353.1,241.6 353.7,240.9 354.0,242.5 354.6,241.7 355.2,241.6 355.9,242.4 356.5,241.6 357.1,242.0 357.8,242.1 358.4,241.5 359.0,241.6 359.6,241.6 360.2,241.5 360.9,241.3 361.5,241.8 362.1,241.6 362.8,241.1 363.4,241.3 364.0,241.7 364.7,240.7 365.3,240.7 366.0,241.1 366.7,240.6 367.3,240.1 368.0,239.7 368.6,239.2 369.2,239.4 369.8,238.4 370.5,238.3 371.1,237.9 371.7,238.1 372.3,238.4 373.0,233.1 373.7,228.4 374.3,200.1 375.0,198.1 375.7,196.2 376.3,196.2 376.9,196.6 377.5,197.9 378.2,198.1 379.0,213.5 379.7,220.2 380.3,226.8 381.0,233.1 382.0,219.3 383.2,227.8 384.0,227.5 384.8,226.3 385.7,227.4 386.5,228.7 387.3,230.8 388.2,233.3 388.8,234.2 389.4,234.7 390.0,235.8 390.7,236.0 391.3,236.7 391.9,236.6 392.5,236.9 393.2,237.8 394.0,238.7 394.8,238.8 395.5,238.9 396.1,239.4 396.7,240.2 397.3,239.7 398.2,236.8 399.0,234.0 399.7,228.4 400.3,223.1 401.5,231.8 402.3,232.8 403.2,232.8 404.0,229.3 404.8,225.8 405.7,227.8 406.5,229.0 407.3,226.2 408.2,224.3 409.0,230.4 409.8,225.2 410.7,220.1 411.5,221.1 412.3,222.7 413.0,226.6 413.7,230.9 414.8,223.7 415.7,216.2 416.5,209.3 417.2,209.4 417.8,209.4 418.5,209.7 419.2,209.7 419.8,209.7 420.0,210.5 420.9,211.8 421.8,212.8 422.7,219.7 423.6,224.3 424.2,227.0 424.9,228.3 425.6,229.8 426.2,232.1 426.9,232.6 427.6,233.7 428.3,235.3 428.9,236.0 429.6,236.2 430.3,236.8 430.9,236.4 431.6,238.1 432.5,236.7 433.4,235.5 434.2,234.7 434.9,234.0 435.7,232.3 436.4,233.3 437.1,234.8 437.9,235.3 438.6,235.9 439.3,236.5 440.0,236.9 440.7,238.1 441.4,239.3 442.1,236.7 442.8,234.5 443.4,231.2 444.1,228.6 445.0,225.7 445.9,222.7 446.8,212.6 447.5,215.7 448.2,219.4 448.8,218.3 449.5,217.9 450.1,218.5 450.8,219.8 451.5,221.2 452.1,221.4 453.0,224.2 453.9,226.5 454.6,227.6 455.3,230.1 455.9,230.1 456.6,232.9 457.3,229.0 458.0,225.0 458.7,227.9 459.3,230.3 460.2,229.6 461.1,228.8 462.0,223.2 462.9,217.7 463.5,217.6 464.2,217.4 464.9,217.2 465.5,217.0 466.4,185.9 467.3,185.7 468.2,210.7 469.1,210.1 470.0,209.8 470.6,197.8 471.2,185.7 472.0,185.8 472.7,185.5 473.6,210.2 474.5,220.9 475.4,230.6 476.0,231.5 476.7,232.4 477.4,232.6 478.0,234.2 478.7,235.1 479.4,235.9 480.0,236.2 480.7,237.5 481.4,238.0 482.1,238.2 482.7,238.0 483.4,238.5 484.0,234.6 484.7,229.8 485.3,225.9 486.0,222.1 486.7,220.6 487.4,219.5 488.1,226.1 488.7,232.0 489.3,230.1 489.9,228.4 491.0,206.8 491.9,207.7 492.8,230.0 493.5,231.4 494.2,232.0 494.9,232.0 495.8,233.0 496.7,234.1 497.6,222.8 498.5,223.1 499.4,234.8 500.3,235.3 501.2,236.5 502.1,237.9 503.0,237.7 503.9,232.7 504.5,232.7 505.2,232.1 505.9,232.2 506.5,232.2 507.2,231.5 507.8,232.2 508.4,231.9 509.1,232.1 509.7,231.3 510.4,232.5 511.0,232.0 511.7,233.4 512.3,234.2 513.0,235.8 513.7,236.3 514.6,228.7 515.5,220.9 516.1,212.0 516.7,202.9 517.8,204.1 518.7,219.0 519.6,229.5 520.3,213.4 521.4,219.4 522.0,226.4 522.6,234.1 523.5,228.6 524.4,223.0 525.3,222.7 526.2,222.6 526.8,228.2 527.4,235.9 528.1,230.3 528.9,224.9 529.8,237.1 530.6,238.2 531.5,238.6 532.2,238.3 532.9,237.8 533.5,238.3 534.2,238.4 534.9,236.1 535.6,234.4 536.4,231.6 537.4,238.2 538.1,237.4 538.9,237.8 539.6,238.7 540.3,238.4 541.0,238.4 541.7,238.2 542.4,238.7 543.1,238.4 543.8,238.5 544.5,238.3 545.2,237.4 545.8,238.1 546.7,234.9 547.6,231.8 548.5,233.6 549.4,233.6 550.0,235.5 550.7,235.1 551.3,236.8 552.0,236.4 552.9,237.4 553.8,240.1 554.6,240.2 555.4,241.2 556.2,242.2 557.0,241.4 557.8,241.4 558.5,241.6 559.7,232.6 560.6,231.8 561.5,236.6 562.2,237.7 563.0,238.9 563.7,235.8 564.5,234.1 565.7,235.9 566.6,236.6 567.5,237.6 568.3,238.2 569.1,238.7 569.9,238.3 570.7,239.2 571.4,240.9 572.2,241.2 573.0,241.7 573.7,241.6 574.4,242.0 575.1,241.6 575.8,241.7 576.6,241.2 577.3,241.7 578.0,241.2 578.8,241.9 579.5,241.4 580.3,241.0 581.0,239.9 581.8,239.0 582.7,239.2 583.5,239.7 584.4,240.2 585.3,240.2 586.0,239.6 586.8,238.6 587.7,240.8 588.5,240.6 589.3,241.8 590.1,241.6 590.8,241.2 591.6,241.2 592.3,241.5 593.1,240.3 593.9,240.1 594.7,239.7 595.5,239.9 596.2,238.4 597.0,237.5 597.8,237.0 599.0,235.4 599.9,236.9 600.8,238.3 601.6,238.2 602.4,239.0 603.2,238.5 604.0,239.1 604.8,240.3 605.6,240.9 606.2,241.3 606.8,241.4 607.4,241.2 608.0,240.9 608.9,241.1 609.8,242.2 610.7,239.7 611.6,238.9 612.5,238.6 613.4,238.6 614.5,237.3 615.4,236.2 616.3,235.7 617.5,238.4 618.4,239.5 619.3,240.7 620.1,240.7 620.8,240.5 621.5,241.0 622.3,240.7 623.0,240.7 623.8,240.4 624.5,240.1 625.3,239.9 626.2,240.1 627.0,240.5 627.7,240.7 628.4,240.8 629.1,240.4 629.8,240.6 630.4,241.4 631.1,241.2 631.8,241.2 632.5,241.2 633.2,241.4 633.9,241.0 634.5,240.8 635.2,241.6 635.9,241.1 636.6,241.5 637.3,241.9 637.9,241.2 638.6,240.9 639.3,241.2 640.0,240.6 640.7,240.8 641.3,240.9 642.0,241.3 642.7,241.8 643.4,241.7 644.1,241.9 644.7,241.3 645.4,241.0 646.1,241.1 646.8,241.4 647.5,241.4 648.1,241.4 648.8,241.9 649.5,241.7 650.2,242.0 650.9,242.2 651.5,241.4 652.2,241.5 652.8,242.0 653.5,242.0 654.1,241.4 654.8,241.5 655.4,242.1 656.1,242.0 656.8,242.2 657.4,241.7" fill="none" stroke="#1a48bd" stroke-width="1.9" stroke-linejoin="round" stroke-linecap="round"/>
<polyline points="26.1,365.7 26.8,364.9 27.5,365.2 28.1,365.1 28.8,365.2 29.5,366.1 30.2,365.7 30.9,365.6 31.5,366.1 32.2,366.3 32.8,366.1 33.5,366.0 34.2,365.4 34.8,366.1 35.5,365.9 36.2,365.1 36.8,365.1 37.5,365.4 38.2,364.8 38.8,364.7 39.5,364.6 40.3,364.0 41.0,362.4 41.8,361.4 42.6,360.5 43.4,359.5 44.1,358.3 44.8,357.9 45.4,357.5 46.0,356.4 46.6,356.7 47.2,356.8 48.0,356.0 48.8,354.9 49.6,354.6 50.2,354.5 50.9,354.7 51.6,354.8 52.2,355.6 52.8,356.4 53.4,357.5 54.2,358.8 55.0,361.0 55.7,359.9 56.5,361.2 57.3,361.9 58.1,361.5 58.8,361.0 59.6,360.7 60.4,359.3 61.2,357.7 61.9,356.3 62.6,354.4 63.3,352.3 64.0,350.3 64.7,347.6 65.5,346.0 66.1,346.3 66.7,346.5 67.4,346.6 68.1,348.8 68.9,351.1 69.7,353.2 70.5,354.5 71.2,356.7 72.0,357.5 72.6,358.9 73.2,358.4 73.9,359.7 74.5,359.7 75.1,360.0 75.7,361.1 76.3,361.6 77.0,362.2 77.6,363.0 78.2,363.2 78.8,363.4 79.5,364.3 80.1,365.1 80.8,365.5 81.4,365.1 82.1,365.8 82.8,364.5 83.6,363.1 84.4,361.0 85.2,357.8 85.9,354.1 86.7,350.5 87.5,349.2 88.3,346.4 89.0,344.1 90.0,346.5 90.8,348.5 91.5,351.2 92.3,354.3 93.1,357.3 93.7,358.1 94.3,359.3 95.0,360.0 95.6,360.7 96.2,361.9 96.8,362.3 97.4,362.3 98.1,362.9 98.7,363.0 99.3,363.6 99.9,364.1 100.5,364.6 101.2,365.1 101.8,365.0 102.4,364.6 103.0,365.0 103.6,364.6 104.2,365.4 104.9,365.6 105.5,366.2 106.3,365.8 107.0,365.7 107.8,365.0 108.6,362.1 109.4,360.1 110.1,358.4 110.9,355.3 111.7,352.8 112.5,350.3 113.2,347.1 114.0,345.5 114.8,346.3 115.6,346.8 116.3,349.8 117.1,353.1 117.9,355.7 118.5,356.9 119.1,358.0 119.7,359.4 120.4,360.8 121.0,361.9 121.6,362.1 122.2,362.8 122.8,363.2 123.5,364.7 124.1,364.9 124.7,365.5 125.3,365.6 125.9,365.0 126.5,365.6 127.2,365.9 127.9,363.9 128.7,363.5 129.5,360.3 130.3,357.0 131.0,356.4 131.8,354.8 132.6,354.2 133.4,354.2 134.1,353.2 134.9,355.7 135.7,357.1 136.5,358.7 137.2,360.5 138.0,361.8 138.6,362.4 139.2,363.1 139.9,363.7 140.5,363.4 141.1,364.8 141.7,364.5 142.3,365.0 143.0,365.1 143.6,366.0 144.2,366.0 144.8,365.4 145.5,365.9 146.1,366.1 146.8,366.4 147.4,366.7 148.1,366.9 148.7,366.7 149.4,366.8 150.0,366.8 150.7,366.7 151.3,367.2 151.9,366.8 152.7,366.5 153.5,366.3 154.3,365.5 155.0,364.4 155.8,362.1 156.6,360.7 157.5,358.7 158.3,357.5 159.1,358.4 159.9,359.3 160.6,361.9 161.4,364.2 162.2,367.5 163.0,368.4 163.7,369.8 164.5,372.3 165.3,372.0 166.1,372.6 166.8,372.6 167.6,371.1 168.4,370.5 169.2,369.9 169.9,366.8 170.7,363.7 171.5,362.1 172.3,358.9 173.0,356.2 173.8,353.0 174.6,353.2 175.4,352.6 176.1,352.3 176.8,353.2 177.5,353.1 178.1,353.5 178.8,352.7 179.5,353.2 180.1,352.9 180.8,353.9 181.4,353.3 182.1,353.8 182.7,353.4 183.4,353.9 184.0,354.1 184.7,354.4 185.4,355.3 186.2,356.6 187.0,357.3 187.7,359.1 188.5,360.1 189.3,362.0 190.1,363.1 190.8,365.7 191.6,367.1 192.4,367.7 193.2,369.8 193.9,370.8 194.7,372.1 195.5,372.0 196.3,372.8 196.9,372.9 197.5,373.3 198.1,373.8 198.7,373.4 199.4,373.3 200.0,373.2 200.6,372.5 201.2,372.0 201.8,371.6 202.5,370.7 203.1,371.6 203.7,371.6 204.3,371.7 204.9,371.7 205.6,371.8 206.2,371.9 206.8,371.4 207.4,371.3 208.0,371.5 208.7,370.8 209.3,371.9 209.9,372.3 210.5,373.0 211.1,373.7 211.8,374.4 212.4,374.3 213.0,373.8 213.6,374.0 214.2,374.2 214.8,374.0 215.5,373.5 216.1,373.9 216.7,374.6 217.3,375.1 217.9,375.3 218.6,375.9 219.3,375.0 220.0,375.1 220.6,375.4 221.3,375.6 222.0,375.8 222.6,376.3 223.2,375.7 223.9,376.1 224.5,375.8 225.1,375.5 225.7,375.0 226.3,375.6 227.0,375.5 227.6,374.8 228.2,375.8 228.8,375.2 229.4,375.6 230.1,375.9 230.7,375.8 231.3,375.5 231.9,375.6 232.5,375.9 233.2,375.8 233.8,375.6 234.4,376.0 235.0,376.1 235.6,375.5 236.2,375.1 236.8,375.4 237.4,374.8 238.0,375.1 238.6,375.2 239.2,374.9 239.8,374.5 240.6,374.5 241.4,372.8 242.1,372.1 242.9,370.8 243.7,369.3 244.5,368.8 245.1,367.9 245.7,367.9 246.3,367.5 246.9,367.3 247.6,366.2 248.2,367.0 248.8,367.3 249.5,367.3 250.1,366.7 250.8,367.5 251.4,367.9 252.2,369.3 253.0,369.9 253.7,370.9 254.4,370.9 255.1,370.2 255.8,369.4 256.5,367.8 257.2,365.5 257.9,363.5 258.6,361.5 259.3,361.5 259.9,359.7 260.7,361.5 261.5,363.5 262.3,364.8 263.0,366.2 263.8,367.3 264.6,369.1 265.2,368.5 265.8,367.5 266.4,368.4 267.1,368.6 267.7,368.7 268.3,368.9 268.9,369.6 269.5,369.8 270.2,370.1 270.8,370.1 271.4,370.0 272.0,371.2 272.6,371.2 273.3,371.4 273.9,371.7 274.5,372.2 275.1,370.9 275.7,371.6 276.4,371.3 277.0,371.8 277.8,369.9 278.5,370.1 279.3,369.5 280.1,370.4 280.8,371.8 281.6,373.0 282.4,372.0 283.2,370.9 283.9,369.4 284.7,365.6 285.5,363.0 286.3,360.0 287.1,359.0 288.0,358.4 288.8,358.1 289.5,356.7 290.3,358.3 291.1,361.6 291.9,362.2 292.6,364.0 293.4,364.4 294.0,365.4 294.7,365.5 295.3,366.0 295.9,366.2 296.5,367.2 297.2,368.0 297.8,367.3 298.5,367.6 299.1,367.2 299.7,368.5 300.4,368.4 301.0,368.4 301.6,368.2 302.2,368.5 302.9,369.0 303.5,367.9 304.1,368.4 304.7,368.9 305.3,368.3 306.0,368.1 306.6,368.3 307.2,368.3 307.8,368.7 308.4,369.3 309.1,368.7 309.7,368.5 310.3,368.8 310.9,369.3 311.5,369.5 312.2,368.8 312.8,369.0 313.4,369.2 314.0,369.2 314.6,369.4 315.3,369.3 315.9,369.4 316.5,369.3 317.1,369.7 317.7,368.6 318.4,369.0 319.0,369.0 319.6,369.1 320.2,368.8 320.8,369.6 321.5,369.3 322.1,369.0 322.7,368.8 323.3,369.0 323.9,368.7 324.5,369.0 325.2,368.3 325.8,368.1 326.5,367.8 327.1,368.4 327.7,367.9 328.4,367.5 329.0,367.6 329.8,367.1 330.6,365.8 331.4,365.7 332.1,365.9 332.9,365.7 333.7,366.1 334.5,368.0 335.2,368.8 336.0,369.9 336.8,371.2 337.6,372.3 338.3,374.0 339.1,374.1 339.9,375.4 340.7,375.3 341.3,375.9 342.0,376.3 342.6,375.9 343.3,376.1 344.0,376.5 344.6,376.0 345.3,375.9 346.0,376.2 346.6,376.5 347.3,377.0 348.0,376.7 348.6,376.8 349.3,376.9 349.9,377.2 350.6,377.5 351.3,376.9 352.0,377.1 352.6,376.4 353.3,376.8 354.0,377.2 354.6,377.3 355.2,376.7 355.8,376.6 356.4,376.6 357.0,377.1 357.6,376.7 358.2,377.3 358.9,376.5 359.5,376.7 360.1,375.8 360.7,376.3 361.4,376.6 362.1,375.9 362.8,376.5 363.4,376.4 364.1,375.4 364.8,374.6 365.5,373.8 366.1,372.3 366.8,369.6 367.5,367.2 368.2,365.0 368.8,362.2 369.5,359.9 370.2,357.6 370.8,356.1 371.4,355.5 372.0,354.0 372.6,353.6 373.2,351.7 373.9,352.2 374.6,353.0 375.2,353.6 375.9,355.4 376.6,356.3 377.3,357.8 377.9,358.0 378.6,359.2 379.3,360.5 380.0,358.0 380.6,355.2 381.3,352.4 382.0,349.4 382.7,346.5 383.3,344.2 384.0,343.7 384.7,342.3 385.4,342.3 386.0,343.9 386.7,345.6 387.4,347.9 388.1,349.8 388.7,352.0 389.4,353.9 390.1,355.6 390.8,356.2 391.4,357.6 392.1,359.8 392.8,361.7 393.5,364.1 394.1,365.5 394.8,366.5 395.5,368.0 396.1,367.9 396.8,368.3 397.5,369.0 398.2,367.1 398.8,366.4 399.5,364.7 400.2,362.8 400.9,361.4 401.5,359.0 402.2,356.9 402.9,355.1 403.6,353.1 404.2,352.9 404.9,351.2 405.6,350.9 406.3,350.2 406.9,349.2 407.6,348.4 408.3,347.3 409.0,345.7 409.6,344.1 410.3,342.2 411.0,340.4 411.7,338.1 412.3,337.3 413.0,337.3 413.7,335.7 414.4,336.4 415.0,336.6 415.7,336.6 416.4,338.2 417.1,339.3 417.7,340.7 418.4,342.2 419.1,343.7 419.8,345.6 420.0,347.4 420.7,349.5 421.4,351.0 422.0,353.3 422.7,355.4 423.4,357.3 424.1,357.6 424.8,358.9 425.4,359.9 426.1,361.4 426.8,362.3 427.5,362.8 428.2,363.9 428.8,364.0 429.5,365.5 430.2,366.0 430.9,366.8 431.6,367.0 432.2,367.8 432.9,368.9 433.6,369.1 434.3,369.9 435.0,370.0 435.6,370.3 436.3,371.1 437.0,371.9 437.7,370.7 438.3,369.9 439.0,370.3 439.7,369.3 440.4,369.4 441.1,366.8 441.9,365.5 442.7,362.7 443.4,359.8 444.2,356.4 444.9,353.7 445.6,353.2 446.3,352.1 447.0,350.5 447.6,350.3 448.3,348.9 449.0,347.9 449.7,348.1 450.4,348.4 451.0,348.2 451.7,347.4 452.4,347.1 453.1,346.7 453.8,346.0 454.4,344.9 455.1,343.9 455.9,342.1 456.6,340.7 457.4,338.2 458.1,336.6 458.9,333.2 459.6,331.6 460.4,327.8 461.2,323.1 461.9,319.8 462.7,315.2 463.4,311.0 464.2,305.8 464.9,304.5 465.6,302.6 466.4,300.8 467.1,299.5 467.9,301.4 468.6,303.7 469.4,306.2 470.1,311.0 470.9,316.0 471.7,322.5 472.4,327.5 473.2,334.3 473.9,340.3 474.7,350.3 475.5,360.2 476.3,363.2 477.0,367.3 477.8,370.7 478.4,371.1 479.1,371.6 479.8,373.1 480.5,372.9 481.2,374.6 481.8,372.4 482.5,373.4 483.2,372.6 483.9,372.7 484.6,372.1 485.7,369.8 486.0,364.8 486.8,365.2 487.5,365.4 488.3,366.4 489.1,367.4 489.9,367.6 490.6,369.6 491.3,369.5 491.9,370.4 492.5,370.5 493.1,371.6 493.7,371.6 494.4,371.8 495.0,371.8 495.6,372.7 496.2,372.6 496.8,372.6 497.5,373.1 498.1,373.6 498.7,373.2 499.3,373.1 499.9,373.8 500.6,373.4 501.2,373.5 501.8,373.0 502.4,372.3 503.0,372.7 503.7,371.5 504.3,371.9 504.9,370.7 505.5,370.3 506.1,369.7 506.8,369.8 507.4,369.1 508.0,368.7 508.6,368.5 509.2,368.8 509.8,368.2 510.5,368.2 511.1,368.3 511.7,367.3 512.3,367.6 513.1,365.2 513.9,365.3 514.7,363.9 515.3,362.1 516.0,361.7 516.7,360.0 517.3,360.8 517.9,362.0 518.5,362.3 519.3,363.7 520.1,364.3 520.8,365.0 521.5,365.7 522.1,366.1 522.7,366.9 523.3,367.9 523.9,367.4 524.6,368.7 525.2,369.3 525.8,369.9 526.4,370.1 527.0,371.6 527.7,371.8 528.3,372.7 528.9,373.1 529.5,373.0 530.1,374.0 530.8,374.5 531.4,374.8 532.1,375.2 532.7,374.4 533.4,376.0 534.0,375.9 534.7,376.4 535.3,376.0 535.9,375.8 536.6,376.3 537.2,376.2 537.9,376.7 538.5,376.5 539.1,376.5 539.7,376.6 540.4,376.5 541.0,376.6 541.6,375.8 542.2,375.5 542.8,375.6 543.5,374.6 544.1,374.8 544.8,374.1 545.6,373.6 546.4,372.8 547.0,373.0 547.6,373.8 548.3,373.9 548.9,374.5 549.5,374.5 550.1,375.3 550.7,375.1 551.4,375.3 552.0,376.7 552.7,376.4 553.4,376.0 554.1,376.7 554.9,376.9 555.6,376.8 556.3,376.4 557.1,377.2 557.8,376.1 558.5,376.2 559.4,374.8 560.3,373.3 561.1,373.2 561.9,373.5 562.7,374.0 563.5,374.3 564.3,375.1 565.1,374.8 565.8,375.4 566.5,375.9 567.2,376.4 568.0,376.9 568.7,377.5 569.4,377.5 570.1,377.8 570.8,378.9 571.5,378.0 572.2,378.8 573.0,379.0 573.7,379.0 574.4,379.1 575.1,379.5 575.8,378.8 576.5,379.3 577.2,378.7 577.9,378.6 578.5,378.8 579.2,378.4 579.9,378.6 580.6,378.1 581.3,378.2 582.0,377.8 582.7,378.0 583.4,378.0 584.1,378.1 584.9,377.9 585.6,378.6 586.3,377.9 587.0,378.6 587.7,379.4 588.4,379.3 589.1,379.0 589.9,379.5 590.6,379.4 591.3,379.2 592.0,379.3 592.7,378.9 593.4,378.4 594.1,378.2 594.9,378.2 595.6,377.5 596.3,377.4 597.0,376.7 597.7,376.8 598.4,375.8 599.1,375.6 599.9,376.7 600.6,377.2 601.3,377.9 602.0,377.5 602.7,378.8 603.4,378.3 604.1,379.2 604.9,379.1 605.6,378.9 606.2,379.3 606.8,378.7 607.4,378.3 608.0,377.5 608.8,377.5 609.6,377.4 610.4,376.8 611.2,376.2 612.0,376.1 612.8,375.6 613.5,376.1 614.2,375.6 615.0,375.2 615.7,375.4 616.6,376.7 617.5,378.0 618.3,378.2 619.1,378.2 619.9,379.1 620.6,379.1 621.3,378.8 621.9,379.0 622.6,379.5 623.3,379.5 624.0,379.1 624.7,379.6 625.3,379.8 626.0,379.9 626.7,379.3 627.4,379.2 628.1,379.4 628.7,379.4 629.4,379.7 630.1,380.4 630.8,380.3 631.5,380.1 632.1,380.5 632.8,379.8 633.5,380.4 634.2,380.5 634.9,380.4 635.6,380.6 636.2,380.4 636.9,380.2 637.6,380.2 638.3,380.3 639.0,379.8 639.6,380.1 640.3,380.3 641.0,380.5 641.7,379.7 642.4,380.0 643.0,379.8 643.7,379.9 644.4,380.3 645.1,379.5 645.8,380.1 646.4,379.4 647.1,379.8 647.8,379.9 648.5,380.3 649.2,380.4 649.8,379.7 650.5,379.8 651.2,379.8 651.9,379.7 652.6,380.1 653.2,380.1 653.9,379.9 654.6,379.6 655.3,379.9 656.0,379.9 656.7,380.0 657.4,380.0" fill="none" stroke="#EDB120" stroke-width="1.9" stroke-linejoin="round" stroke-linecap="round"/>
<polyline points="26.1,362.1 26.8,361.7 27.5,362.2 28.1,361.2 28.8,361.8 29.5,362.6 30.2,362.0 30.8,362.4 31.4,362.0 32.1,362.9 32.7,362.8 33.3,363.0 33.9,362.6 34.5,362.9 35.2,362.6 35.8,363.1 36.4,362.4 37.0,363.2 37.6,363.2 38.2,362.8 38.9,363.3 39.5,362.8 40.1,363.4 40.7,362.6 41.3,362.4 42.0,362.6 42.6,363.8 43.4,361.7 44.1,361.7 44.9,361.4 45.7,343.2 46.6,342.7 47.2,356.3 47.8,355.5 48.5,357.3 49.1,357.2 49.7,357.5 50.3,358.7 51.1,357.6 51.9,357.9 52.7,341.2 53.7,342.0 54.4,346.2 55.0,350.9 55.7,353.1 56.5,353.9 57.3,356.5 58.1,357.7 58.7,359.1 59.3,360.0 59.9,360.5 60.5,358.5 61.2,356.0 61.8,358.6 62.4,360.4 63.0,361.4 63.6,362.2 64.3,361.1 64.9,356.3 65.5,350.9 66.6,341.7 67.2,341.8 67.9,341.9 68.5,341.5 69.2,341.6 69.8,341.3 70.5,341.1 71.2,346.8 72.0,352.4 72.8,353.7 73.6,354.9 74.3,356.1 75.0,357.3 75.6,357.6 76.2,358.3 76.8,359.7 77.4,359.4 78.1,360.0 78.7,360.5 79.4,359.9 80.0,360.8 80.7,361.4 81.3,362.0 81.9,361.9 82.5,362.4 83.2,362.8 83.8,363.2 84.4,363.2 85.1,363.6 85.8,363.6 86.5,363.0 87.2,362.2 88.3,342.6 89.1,342.5 90.0,341.6 90.8,342.6 91.5,341.7 92.3,342.5 93.1,348.5 93.9,353.7 94.6,355.1 95.4,356.1 96.2,357.4 96.8,358.3 97.4,358.6 98.1,358.8 98.7,360.4 99.3,360.8 99.9,361.2 100.5,360.5 101.2,361.3 101.8,361.1 102.4,361.6 103.2,361.8 103.9,361.5 104.7,361.5 105.5,361.5 106.3,363.1 107.0,363.4 107.8,363.4 108.6,363.1 109.4,362.7 110.0,362.5 110.6,361.5 111.2,362.0 111.8,361.7 112.5,361.3 113.2,358.5 114.0,355.9 114.8,342.4 115.4,341.6 116.1,341.4 116.7,341.9 117.4,341.4 118.0,341.3 118.7,341.8 119.4,346.2 120.2,351.0 121.0,353.2 121.7,354.8 122.5,357.0 123.1,358.0 123.8,358.6 124.4,359.4 125.0,360.5 125.6,361.1 126.2,361.7 126.9,361.3 127.5,361.9 128.1,362.1 128.7,362.0 129.4,362.8 130.0,362.6 130.7,362.2 131.3,362.9 131.9,362.7 132.6,363.3 133.2,361.6 133.8,360.8 134.6,340.7 135.7,342.9 136.5,349.2 137.2,355.0 138.0,356.3 138.8,356.5 139.6,357.1 140.2,357.7 140.8,357.7 141.4,359.2 142.0,359.7 142.7,360.5 143.3,360.4 143.9,360.8 144.5,361.2 145.1,361.1 145.8,363.1 146.4,362.8 147.0,363.6 147.6,363.9 148.2,364.1 148.8,363.9 149.5,363.8 150.1,364.7 150.7,364.6 151.3,364.8 151.9,365.2 152.6,364.4 153.2,365.3 153.8,364.5 154.4,364.7 155.0,364.5 155.8,364.1 156.6,363.8 157.4,364.2 158.3,364.0 159.1,359.4 159.9,354.1 160.6,354.3 161.4,355.2 162.2,355.1 162.8,361.8 163.4,368.4 164.1,369.2 164.7,370.4 165.3,371.1 165.9,371.6 166.5,371.1 167.2,371.9 167.8,371.5 168.4,372.3 169.2,373.2 169.9,372.7 170.7,373.0 171.5,369.6 172.3,366.3 173.3,355.0 174.0,355.3 174.6,354.9 175.2,355.2 175.8,355.4 176.4,355.3 177.1,355.7 177.7,356.2 178.3,355.3 178.9,355.4 179.5,355.9 180.2,354.9 180.8,355.2 181.4,355.6 182.0,355.6 182.6,356.1 183.3,356.1 183.9,355.7 184.7,355.6 185.4,355.3 186.2,355.3 187.0,357.8 187.7,360.3 188.4,359.8 189.0,360.2 189.7,359.9 190.3,359.5 191.0,359.7 191.6,360.0 192.4,364.2 193.2,369.2 193.9,369.4 194.7,370.7 195.5,371.4 196.3,372.7 197.0,372.1 197.8,372.7 198.6,372.4 199.4,373.6 200.1,373.4 200.9,372.4 201.7,371.7 202.5,370.0 203.1,370.5 203.7,370.6 204.3,370.6 204.9,371.2 205.6,371.3 206.2,371.3 206.8,371.1 207.4,370.5 208.0,370.4 208.7,370.4 209.4,371.8 210.2,371.9 211.0,373.6 211.8,372.6 212.5,371.1 213.6,364.4 214.5,365.1 215.6,371.9 216.4,372.9 217.2,372.3 217.9,372.4 218.6,373.5 219.2,373.6 219.8,373.9 220.4,373.8 221.0,374.2 222.0,373.8 222.6,374.4 223.2,374.1 223.9,374.2 224.5,373.4 225.1,373.6 225.7,373.2 226.3,373.7 227.0,374.2 227.6,374.5 228.2,374.7 228.8,374.8 229.4,374.9 230.1,374.0 230.7,374.9 231.3,374.3 231.9,374.3 232.5,373.9 233.2,374.5 233.8,374.6 234.4,374.1 235.0,374.9 235.6,374.4 236.2,374.1 236.9,374.5 237.5,374.6 238.1,374.6 238.7,374.4 239.3,375.2 240.0,374.3 240.6,373.8 241.2,374.9 241.9,375.2 242.5,376.0 243.2,374.4 243.8,374.7 244.5,375.0 245.2,365.3 245.9,364.7 246.5,365.0 247.2,364.9 247.8,364.4 248.5,365.0 249.1,364.9 249.8,364.9 250.4,364.9 251.1,365.3 251.8,364.7 252.4,365.5 253.1,365.2 253.7,365.6 254.8,371.3 255.5,372.4 256.2,372.1 256.9,372.3 257.6,372.2 258.4,357.8 259.1,358.4 259.8,358.5 260.5,358.6 261.2,358.0 261.9,358.0 262.6,358.5 263.5,373.4 264.6,365.5 265.2,365.3 265.9,365.0 266.5,365.9 267.2,365.8 267.8,365.6 268.5,365.1 269.1,366.1 269.8,365.7 270.4,365.2 271.0,365.3 271.7,365.9 272.3,365.3 273.1,369.3 273.9,372.9 274.5,372.8 275.1,372.6 275.7,373.3 276.4,373.3 277.0,372.9 278.1,365.7 278.7,366.0 279.3,365.7 279.9,365.9 280.5,366.1 281.2,366.4 282.1,372.9 282.7,372.1 283.4,372.8 284.1,372.6 284.7,372.9 285.4,372.9 286.1,373.9 286.7,373.8 287.8,361.7 288.8,348.5 289.5,345.9 290.3,352.1 291.1,355.0 291.9,357.8 292.6,359.0 293.4,360.2 294.2,361.9 294.8,363.0 295.4,362.7 296.1,362.9 296.7,364.4 297.3,364.6 297.9,364.7 298.5,365.0 299.2,364.9 299.8,364.9 300.4,365.6 301.0,365.7 301.6,365.6 302.2,365.3 302.9,365.9 303.5,366.2 304.1,365.3 304.7,365.9 305.3,365.4 306.0,365.5 306.6,365.6 307.2,365.4 307.8,365.6 308.4,365.9 309.1,365.6 309.7,365.2 310.3,365.5 310.9,365.6 311.5,365.2 312.2,365.4 312.8,364.8 313.4,365.4 314.0,365.5 314.6,365.4 315.3,365.4 315.9,365.7 316.5,365.0 317.1,366.0 317.7,365.8 318.4,366.0 319.0,365.1 319.6,366.0 320.2,364.4 320.8,365.2 321.5,366.2 322.1,365.1 322.7,365.7 323.3,365.5 323.9,366.4 324.5,366.3 325.2,365.7 325.8,365.7 326.5,365.1 327.2,365.0 327.8,365.4 328.5,365.5 329.2,364.7 329.8,365.1 330.4,362.9 331.1,361.2 331.7,361.1 332.3,361.3 332.9,362.5 333.7,360.9 334.5,362.1 335.2,363.0 336.0,364.1 336.8,364.2 337.6,364.6 338.3,365.1 339.4,373.6 340.1,373.4 340.8,373.7 341.5,373.8 342.2,374.4 342.9,374.1 343.5,374.6 344.2,374.5 344.9,374.2 345.5,375.0 346.2,374.4 346.8,375.3 347.5,375.5 348.1,376.0 348.7,374.4 349.3,375.1 349.9,375.4 350.6,375.6 351.2,374.5 351.8,375.3 352.4,375.7 353.0,375.4 354.0,376.2 354.6,376.7 355.2,376.6 355.8,376.6 356.4,376.5 357.0,376.3 357.6,376.6 358.2,376.1 358.9,376.6 359.5,376.8 360.1,376.8 360.7,376.7 361.3,376.2 361.9,376.6 362.5,375.5 363.1,376.0 363.7,376.2 364.3,375.9 364.9,375.6 365.5,375.7 366.1,376.2 366.8,373.8 367.5,372.6 368.2,371.7 368.8,369.6 369.5,368.4 370.2,367.0 370.9,364.7 371.5,363.2 372.2,360.7 372.9,358.1 373.6,356.3 374.2,353.4 374.9,352.3 375.6,350.5 376.3,350.2 376.9,349.7 377.6,350.7 378.3,351.4 379.3,360.5 380.0,366.1 380.7,371.1 381.5,366.0 382.3,361.1 383.1,355.2 383.9,349.5 384.7,347.8 385.4,345.1 386.1,349.4 386.8,352.6 387.6,350.9 388.4,349.7 389.2,354.1 390.0,358.5 390.7,359.8 391.4,360.9 392.1,360.1 392.8,357.8 393.5,356.3 394.1,360.7 394.8,365.2 395.5,370.3 396.1,371.4 396.8,372.4 397.5,374.0 398.2,371.5 398.9,368.5 399.5,364.9 400.1,360.5 400.8,364.1 401.5,367.2 402.2,369.6 402.9,366.1 403.6,363.1 404.2,360.8 404.9,358.6 405.6,356.1 406.3,351.2 407.0,346.6 407.8,350.6 408.6,356.2 409.4,352.7 410.2,349.0 410.9,352.2 411.6,354.6 412.3,356.9 413.0,352.3 413.7,347.5 414.4,346.8 415.1,345.2 415.7,342.8 416.3,340.6 417.1,326.1 417.7,334.4 418.3,342.6 419.2,344.1 420.0,345.8 420.8,349.3 421.5,351.8 422.3,356.2 423.0,356.9 423.8,358.2 424.5,359.1 425.3,360.5 426.0,363.2 426.8,365.0 427.6,364.0 428.3,364.1 429.1,362.2 429.7,364.3 430.3,366.9 430.9,369.9 431.6,369.7 432.2,369.4 432.9,369.6 433.6,370.7 434.3,369.5 435.1,369.0 435.9,367.9 436.5,369.3 437.2,369.8 437.9,370.7 438.6,371.8 439.3,372.5 439.9,372.6 440.6,373.1 441.3,373.8 442.0,373.6 442.7,373.8 443.4,370.3 444.2,366.1 444.9,363.0 445.7,356.8 446.4,352.8 447.2,346.7 447.9,347.9 448.7,349.8 449.4,351.2 450.2,352.0 451.0,353.5 451.7,354.3 452.5,352.7 453.2,350.7 454.0,348.3 454.7,350.0 455.5,350.2 456.2,351.5 456.9,350.2 457.5,349.3 458.1,349.0 458.8,350.6 459.6,351.6 460.3,353.7 461.1,343.3 461.9,333.1 462.7,333.4 463.4,333.3 464.2,333.7 464.8,328.6 465.4,323.9 466.0,318.2 466.7,318.7 467.3,318.4 468.0,319.8 468.6,318.5 469.2,318.1 469.8,317.6 470.5,317.0 471.2,317.3 471.9,317.7 472.6,318.3 473.2,328.4 473.9,337.6 474.7,349.9 475.5,362.3 476.2,364.4 477.0,365.9 477.7,368.1 478.4,369.5 479.1,369.9 479.7,370.1 480.4,371.0 481.0,371.3 481.7,372.0 482.3,372.3 483.0,373.7 483.7,373.5 484.3,374.1 485.0,375.0 485.7,374.8 486.0,375.5 486.6,369.8 487.2,364.8 488.3,359.0 489.4,370.4 490.0,369.2 490.6,368.7 491.4,349.6 492.2,350.4 493.0,369.7 493.7,370.3 494.5,370.4 495.3,371.0 495.9,371.5 496.5,372.5 497.2,372.8 498.1,360.5 498.9,360.9 499.6,372.1 500.2,372.0 500.9,372.6 501.5,373.3 502.3,374.2 503.0,374.4 503.7,371.1 504.3,367.7 505.0,367.7 505.6,368.4 506.3,368.1 507.0,368.1 507.7,367.6 508.3,368.2 509.0,367.9 509.6,368.0 510.3,367.3 510.9,368.1 511.6,368.6 512.2,369.1 512.9,368.2 513.6,369.2 514.3,371.3 515.1,373.0 515.9,360.7 516.7,349.1 517.7,348.8 518.8,364.6 519.8,355.7 520.8,356.8 521.9,366.2 522.6,364.1 523.3,362.6 523.9,361.0 524.6,360.3 525.3,359.7 526.0,359.3 527.0,365.7 527.8,372.5 528.4,368.7 529.1,363.6 530.1,363.8 530.9,373.8 531.7,374.1 532.5,374.7 533.2,375.1 534.0,375.5 534.8,376.2 535.6,375.8 536.3,376.7 537.1,368.8 537.9,369.5 538.7,375.9 539.4,375.5 540.2,375.6 541.0,375.5 541.6,375.9 542.2,376.3 542.8,376.1 543.5,376.4 544.1,376.3 544.8,374.4 545.6,373.4 546.4,371.7 547.2,370.1 547.9,370.6 548.7,371.9 549.5,372.5 550.1,372.9 550.7,373.7 551.4,375.0 552.0,374.6 552.8,375.4 553.6,376.2 554.4,376.3 555.1,377.1 555.8,376.1 556.5,375.7 557.2,376.7 558.0,376.8 558.7,376.5 559.4,376.5 560.0,368.5 560.6,369.5 561.3,374.6 562.0,374.0 562.7,374.2 563.6,373.4 564.5,372.0 565.4,372.9 566.3,373.5 567.1,374.0 567.9,374.2 568.7,374.9 569.4,374.8 570.2,376.1 570.9,376.2 571.6,376.6 572.4,377.7 573.1,377.9 573.9,377.9 574.6,378.2 575.3,377.3 576.0,377.8 576.8,378.1 577.5,377.7 578.2,377.6 578.9,377.5 579.7,377.4 580.4,377.0 581.2,376.5 581.9,377.4 582.7,376.9 583.4,376.8 584.1,376.4 584.9,377.0 585.6,377.4 586.4,376.7 587.1,376.9 587.9,376.8 588.6,377.0 589.4,377.5 590.1,377.6 590.8,377.8 591.5,377.2 592.2,377.5 593.0,376.7 593.7,378.1 594.4,376.6 595.2,376.8 595.9,377.2 596.6,376.4 597.4,375.7 598.2,375.3 599.0,374.4 599.9,375.4 600.8,376.0 601.6,375.5 602.4,375.5 603.2,376.0 604.0,376.2 604.8,377.5 605.6,377.3 606.2,377.8 606.8,377.8 607.4,377.7 608.0,377.4 608.9,377.0 609.8,376.9 610.7,376.5 611.6,375.0 612.5,375.6 613.4,376.0 614.2,376.3 615.1,374.7 616.3,374.4 617.2,374.7 618.1,375.2 619.0,376.3 619.9,377.7 620.7,376.9 621.5,377.7 622.3,377.9 623.0,377.4 623.7,377.5 624.4,377.6 625.1,377.9 625.9,377.6 626.6,377.6 627.3,377.2 628.0,377.3 628.7,378.0 629.4,378.2 630.1,378.4 630.8,378.1 631.5,378.4 632.1,378.4 632.8,377.9 633.5,378.4 634.2,377.8 634.9,377.9 635.6,378.2 636.2,378.4 636.9,378.2 637.6,378.6 638.3,378.3 639.0,379.0 639.6,377.9 640.3,378.6 641.0,378.8 641.7,378.7 642.4,378.8 643.0,378.9 643.7,378.7 644.4,379.2 645.1,378.8 645.8,378.9 646.4,378.5 647.1,379.2 647.8,379.1 648.5,378.8 649.2,378.7 649.8,378.5 650.5,378.5 651.2,378.5 651.9,378.4 652.6,378.6 653.2,379.4 653.9,378.6 654.6,378.3 655.3,378.8 656.0,378.7 656.7,379.2 657.4,379.0" fill="none" stroke="#1a48bd" stroke-width="1.9" stroke-linejoin="round" stroke-linecap="round"/>
<rect x="25.8" y="23.5" width="647.00" height="94.80" fill="none" stroke="#555555" stroke-width="1"/>
<line x1="25.80" y1="118.3" x2="25.80" y2="111.8" stroke="#555555" stroke-width="1"/>
<line x1="25.80" y1="23.5" x2="25.80" y2="30.0" stroke="#555555" stroke-width="1"/>
<text x="0" y="0" class="tk" text-anchor="middle" transform="translate(25.80,134.40) scale(1,1.08)">0</text>
<line x1="90.50" y1="118.3" x2="90.50" y2="111.8" stroke="#555555" stroke-width="1"/>
<line x1="90.50" y1="23.5" x2="90.50" y2="30.0" stroke="#555555" stroke-width="1"/>
<text x="0" y="0" class="tk" text-anchor="middle" transform="translate(90.50,134.40) scale(1,1.08)">500</text>
<line x1="155.20" y1="118.3" x2="155.20" y2="111.8" stroke="#555555" stroke-width="1"/>
<line x1="155.20" y1="23.5" x2="155.20" y2="30.0" stroke="#555555" stroke-width="1"/>
<text x="0" y="0" class="tk" text-anchor="middle" transform="translate(155.20,134.40) scale(1,1.08)">1000</text>
<line x1="219.90" y1="118.3" x2="219.90" y2="111.8" stroke="#555555" stroke-width="1"/>
<line x1="219.90" y1="23.5" x2="219.90" y2="30.0" stroke="#555555" stroke-width="1"/>
<text x="0" y="0" class="tk" text-anchor="middle" transform="translate(219.90,134.40) scale(1,1.08)">1500</text>
<line x1="284.60" y1="118.3" x2="284.60" y2="111.8" stroke="#555555" stroke-width="1"/>
<line x1="284.60" y1="23.5" x2="284.60" y2="30.0" stroke="#555555" stroke-width="1"/>
<text x="0" y="0" class="tk" text-anchor="middle" transform="translate(284.60,134.40) scale(1,1.08)">2000</text>
<line x1="349.30" y1="118.3" x2="349.30" y2="111.8" stroke="#555555" stroke-width="1"/>
<line x1="349.30" y1="23.5" x2="349.30" y2="30.0" stroke="#555555" stroke-width="1"/>
<text x="0" y="0" class="tk" text-anchor="middle" transform="translate(349.30,134.40) scale(1,1.08)">2500</text>
<line x1="414.00" y1="118.3" x2="414.00" y2="111.8" stroke="#555555" stroke-width="1"/>
<line x1="414.00" y1="23.5" x2="414.00" y2="30.0" stroke="#555555" stroke-width="1"/>
<text x="0" y="0" class="tk" text-anchor="middle" transform="translate(414.00,134.40) scale(1,1.08)">3000</text>
<line x1="478.70" y1="118.3" x2="478.70" y2="111.8" stroke="#555555" stroke-width="1"/>
<line x1="478.70" y1="23.5" x2="478.70" y2="30.0" stroke="#555555" stroke-width="1"/>
<text x="0" y="0" class="tk" text-anchor="middle" transform="translate(478.70,134.40) scale(1,1.08)">3500</text>
<line x1="543.40" y1="118.3" x2="543.40" y2="111.8" stroke="#555555" stroke-width="1"/>
<line x1="543.40" y1="23.5" x2="543.40" y2="30.0" stroke="#555555" stroke-width="1"/>
<text x="0" y="0" class="tk" text-anchor="middle" transform="translate(543.40,134.40) scale(1,1.08)">4000</text>
<line x1="608.10" y1="118.3" x2="608.10" y2="111.8" stroke="#555555" stroke-width="1"/>
<line x1="608.10" y1="23.5" x2="608.10" y2="30.0" stroke="#555555" stroke-width="1"/>
<text x="0" y="0" class="tk" text-anchor="middle" transform="translate(608.10,134.40) scale(1,1.08)">4500</text>
<line x1="672.80" y1="118.3" x2="672.80" y2="111.8" stroke="#555555" stroke-width="1"/>
<line x1="672.80" y1="23.5" x2="672.80" y2="30.0" stroke="#555555" stroke-width="1"/>
<text x="0" y="0" class="tk" text-anchor="middle" transform="translate(672.80,134.40) scale(1,1.08)">5000</text>
<line x1="25.8" y1="99.34" x2="32.3" y2="99.34" stroke="#555555" stroke-width="1"/>
<line x1="672.8" y1="99.34" x2="666.3" y2="99.34" stroke="#555555" stroke-width="1"/>
<text x="0" y="0" class="tk" text-anchor="end" transform="translate(22,103.64) scale(1,1.08)">0</text>
<line x1="25.8" y1="61.42" x2="32.3" y2="61.42" stroke="#555555" stroke-width="1"/>
<line x1="672.8" y1="61.42" x2="666.3" y2="61.42" stroke="#555555" stroke-width="1"/>
<text x="0" y="0" class="tk" text-anchor="end" transform="translate(22,65.72) scale(1,1.08)">2</text>
<line x1="25.8" y1="23.50" x2="32.3" y2="23.50" stroke="#555555" stroke-width="1"/>
<line x1="672.8" y1="23.50" x2="666.3" y2="23.50" stroke="#555555" stroke-width="1"/>
<text x="0" y="0" class="tk" text-anchor="end" transform="translate(22,27.80) scale(1,1.08)">4</text>
<rect x="25.8" y="155.5" width="647.00" height="95.00" fill="none" stroke="#555555" stroke-width="1"/>
<line x1="25.80" y1="250.5" x2="25.80" y2="244.0" stroke="#555555" stroke-width="1"/>
<line x1="25.80" y1="155.5" x2="25.80" y2="162.0" stroke="#555555" stroke-width="1"/>
<text x="0" y="0" class="tk" text-anchor="middle" transform="translate(25.80,266.60) scale(1,1.08)">0</text>
<line x1="90.50" y1="250.5" x2="90.50" y2="244.0" stroke="#555555" stroke-width="1"/>
<line x1="90.50" y1="155.5" x2="90.50" y2="162.0" stroke="#555555" stroke-width="1"/>
<text x="0" y="0" class="tk" text-anchor="middle" transform="translate(90.50,266.60) scale(1,1.08)">500</text>
<line x1="155.20" y1="250.5" x2="155.20" y2="244.0" stroke="#555555" stroke-width="1"/>
<line x1="155.20" y1="155.5" x2="155.20" y2="162.0" stroke="#555555" stroke-width="1"/>
<text x="0" y="0" class="tk" text-anchor="middle" transform="translate(155.20,266.60) scale(1,1.08)">1000</text>
<line x1="219.90" y1="250.5" x2="219.90" y2="244.0" stroke="#555555" stroke-width="1"/>
<line x1="219.90" y1="155.5" x2="219.90" y2="162.0" stroke="#555555" stroke-width="1"/>
<text x="0" y="0" class="tk" text-anchor="middle" transform="translate(219.90,266.60) scale(1,1.08)">1500</text>
<line x1="284.60" y1="250.5" x2="284.60" y2="244.0" stroke="#555555" stroke-width="1"/>
<line x1="284.60" y1="155.5" x2="284.60" y2="162.0" stroke="#555555" stroke-width="1"/>
<text x="0" y="0" class="tk" text-anchor="middle" transform="translate(284.60,266.60) scale(1,1.08)">2000</text>
<line x1="349.30" y1="250.5" x2="349.30" y2="244.0" stroke="#555555" stroke-width="1"/>
<line x1="349.30" y1="155.5" x2="349.30" y2="162.0" stroke="#555555" stroke-width="1"/>
<text x="0" y="0" class="tk" text-anchor="middle" transform="translate(349.30,266.60) scale(1,1.08)">2500</text>
<line x1="414.00" y1="250.5" x2="414.00" y2="244.0" stroke="#555555" stroke-width="1"/>
<line x1="414.00" y1="155.5" x2="414.00" y2="162.0" stroke="#555555" stroke-width="1"/>
<text x="0" y="0" class="tk" text-anchor="middle" transform="translate(414.00,266.60) scale(1,1.08)">3000</text>
<line x1="478.70" y1="250.5" x2="478.70" y2="244.0" stroke="#555555" stroke-width="1"/>
<line x1="478.70" y1="155.5" x2="478.70" y2="162.0" stroke="#555555" stroke-width="1"/>
<text x="0" y="0" class="tk" text-anchor="middle" transform="translate(478.70,266.60) scale(1,1.08)">3500</text>
<line x1="543.40" y1="250.5" x2="543.40" y2="244.0" stroke="#555555" stroke-width="1"/>
<line x1="543.40" y1="155.5" x2="543.40" y2="162.0" stroke="#555555" stroke-width="1"/>
<text x="0" y="0" class="tk" text-anchor="middle" transform="translate(543.40,266.60) scale(1,1.08)">4000</text>
<line x1="608.10" y1="250.5" x2="608.10" y2="244.0" stroke="#555555" stroke-width="1"/>
<line x1="608.10" y1="155.5" x2="608.10" y2="162.0" stroke="#555555" stroke-width="1"/>
<text x="0" y="0" class="tk" text-anchor="middle" transform="translate(608.10,266.60) scale(1,1.08)">4500</text>
<line x1="672.80" y1="250.5" x2="672.80" y2="244.0" stroke="#555555" stroke-width="1"/>
<line x1="672.80" y1="155.5" x2="672.80" y2="162.0" stroke="#555555" stroke-width="1"/>
<text x="0" y="0" class="tk" text-anchor="middle" transform="translate(672.80,266.60) scale(1,1.08)">5000</text>
<line x1="25.8" y1="231.50" x2="32.3" y2="231.50" stroke="#555555" stroke-width="1"/>
<line x1="672.8" y1="231.50" x2="666.3" y2="231.50" stroke="#555555" stroke-width="1"/>
<text x="0" y="0" class="tk" text-anchor="end" transform="translate(22,235.80) scale(1,1.08)">0</text>
<line x1="25.8" y1="193.50" x2="32.3" y2="193.50" stroke="#555555" stroke-width="1"/>
<line x1="672.8" y1="193.50" x2="666.3" y2="193.50" stroke="#555555" stroke-width="1"/>
<text x="0" y="0" class="tk" text-anchor="end" transform="translate(22,197.80) scale(1,1.08)">2</text>
<line x1="25.8" y1="155.50" x2="32.3" y2="155.50" stroke="#555555" stroke-width="1"/>
<line x1="672.8" y1="155.50" x2="666.3" y2="155.50" stroke="#555555" stroke-width="1"/>
<text x="0" y="0" class="tk" text-anchor="end" transform="translate(22,159.80) scale(1,1.08)">4</text>
<rect x="25.8" y="288.2" width="647.00" height="95.30" fill="none" stroke="#555555" stroke-width="1"/>
<line x1="25.80" y1="383.5" x2="25.80" y2="377.0" stroke="#555555" stroke-width="1"/>
<line x1="25.80" y1="288.2" x2="25.80" y2="294.7" stroke="#555555" stroke-width="1"/>
<text x="0" y="0" class="tk" text-anchor="middle" transform="translate(25.80,399.60) scale(1,1.08)">0</text>
<line x1="90.50" y1="383.5" x2="90.50" y2="377.0" stroke="#555555" stroke-width="1"/>
<line x1="90.50" y1="288.2" x2="90.50" y2="294.7" stroke="#555555" stroke-width="1"/>
<text x="0" y="0" class="tk" text-anchor="middle" transform="translate(90.50,399.60) scale(1,1.08)">500</text>
<line x1="155.20" y1="383.5" x2="155.20" y2="377.0" stroke="#555555" stroke-width="1"/>
<line x1="155.20" y1="288.2" x2="155.20" y2="294.7" stroke="#555555" stroke-width="1"/>
<text x="0" y="0" class="tk" text-anchor="middle" transform="translate(155.20,399.60) scale(1,1.08)">1000</text>
<line x1="219.90" y1="383.5" x2="219.90" y2="377.0" stroke="#555555" stroke-width="1"/>
<line x1="219.90" y1="288.2" x2="219.90" y2="294.7" stroke="#555555" stroke-width="1"/>
<text x="0" y="0" class="tk" text-anchor="middle" transform="translate(219.90,399.60) scale(1,1.08)">1500</text>
<line x1="284.60" y1="383.5" x2="284.60" y2="377.0" stroke="#555555" stroke-width="1"/>
<line x1="284.60" y1="288.2" x2="284.60" y2="294.7" stroke="#555555" stroke-width="1"/>
<text x="0" y="0" class="tk" text-anchor="middle" transform="translate(284.60,399.60) scale(1,1.08)">2000</text>
<line x1="349.30" y1="383.5" x2="349.30" y2="377.0" stroke="#555555" stroke-width="1"/>
<line x1="349.30" y1="288.2" x2="349.30" y2="294.7" stroke="#555555" stroke-width="1"/>
<text x="0" y="0" class="tk" text-anchor="middle" transform="translate(349.30,399.60) scale(1,1.08)">2500</text>
<line x1="414.00" y1="383.5" x2="414.00" y2="377.0" stroke="#555555" stroke-width="1"/>
<line x1="414.00" y1="288.2" x2="414.00" y2="294.7" stroke="#555555" stroke-width="1"/>
<text x="0" y="0" class="tk" text-anchor="middle" transform="translate(414.00,399.60) scale(1,1.08)">3000</text>
<line x1="478.70" y1="383.5" x2="478.70" y2="377.0" stroke="#555555" stroke-width="1"/>
<line x1="478.70" y1="288.2" x2="478.70" y2="294.7" stroke="#555555" stroke-width="1"/>
<text x="0" y="0" class="tk" text-anchor="middle" transform="translate(478.70,399.60) scale(1,1.08)">3500</text>
<line x1="543.40" y1="383.5" x2="543.40" y2="377.0" stroke="#555555" stroke-width="1"/>
<line x1="543.40" y1="288.2" x2="543.40" y2="294.7" stroke="#555555" stroke-width="1"/>
<text x="0" y="0" class="tk" text-anchor="middle" transform="translate(543.40,399.60) scale(1,1.08)">4000</text>
<line x1="608.10" y1="383.5" x2="608.10" y2="377.0" stroke="#555555" stroke-width="1"/>
<line x1="608.10" y1="288.2" x2="608.10" y2="294.7" stroke="#555555" stroke-width="1"/>
<text x="0" y="0" class="tk" text-anchor="middle" transform="translate(608.10,399.60) scale(1,1.08)">4500</text>
<line x1="672.80" y1="383.5" x2="672.80" y2="377.0" stroke="#555555" stroke-width="1"/>
<line x1="672.80" y1="288.2" x2="672.80" y2="294.7" stroke="#555555" stroke-width="1"/>
<text x="0" y="0" class="tk" text-anchor="middle" transform="translate(672.80,399.60) scale(1,1.08)">5000</text>
<line x1="25.8" y1="364.44" x2="32.3" y2="364.44" stroke="#555555" stroke-width="1"/>
<line x1="672.8" y1="364.44" x2="666.3" y2="364.44" stroke="#555555" stroke-width="1"/>
<text x="0" y="0" class="tk" text-anchor="end" transform="translate(22,368.74) scale(1,1.08)">0</text>
<line x1="25.8" y1="326.32" x2="32.3" y2="326.32" stroke="#555555" stroke-width="1"/>
<line x1="672.8" y1="326.32" x2="666.3" y2="326.32" stroke="#555555" stroke-width="1"/>
<text x="0" y="0" class="tk" text-anchor="end" transform="translate(22,330.62) scale(1,1.08)">2</text>
<line x1="25.8" y1="288.20" x2="32.3" y2="288.20" stroke="#555555" stroke-width="1"/>
<line x1="672.8" y1="288.20" x2="666.3" y2="288.20" stroke="#555555" stroke-width="1"/>
<text x="0" y="0" class="tk" text-anchor="end" transform="translate(22,292.50) scale(1,1.08)">4</text>
<text x="0" y="0" class="lb" text-anchor="middle" transform="translate(10.2,57.7) rotate(-90)">(E) Error/(m)</text>
<text x="0" y="0" class="lb" text-anchor="middle" transform="translate(10.2,191.5) rotate(-90)">(N) Error/(m)</text>
<text x="0" y="0" class="lb" text-anchor="middle" transform="translate(10.2,323.5) rotate(-90)">(U) Error/(m)</text>
<text x="0" y="0" class="lb" style="font-size:13.9px" text-anchor="middle" transform="translate(354.2,418) scale(1,0.9)">Epoch/(1s)</text>
<rect x="343.5" y="0.5" width="329.30" height="23.6" fill="#fff" stroke="#555555" stroke-width="1"/>
<line x1="347.1" y1="12.3" x2="388.6" y2="12.3" stroke="#EDB120" stroke-width="1.5"/>
<line x1="517.1" y1="12.3" x2="558.8" y2="12.3" stroke="#1a48bd" stroke-width="1.5"/>
<text x="391.5" y="15" class="lg">Before Correction</text>
<text x="561.5" y="15" class="lg">After Correction</text>
</svg>
</body></html>
